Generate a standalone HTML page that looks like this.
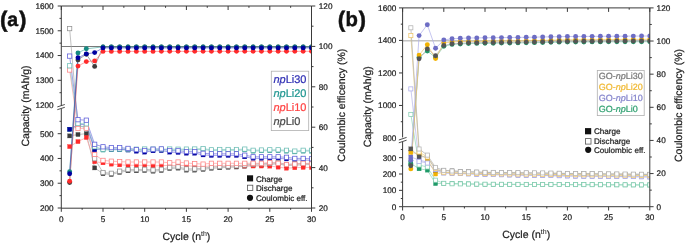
<!DOCTYPE html><html><head><meta charset="utf-8"><style>html,body{margin:0;padding:0;background:#fff;}svg{display:block}text{font-family:'Liberation Sans',sans-serif;text-rendering:geometricPrecision}svg{will-change:transform;filter:blur(0.35px)}</style></head><body>
<svg width="685" height="243" viewBox="0 0 685 243">
<rect width="685" height="243" fill="#fff"/>
<defs><clipPath id="ca"><rect x="61.30" y="6.00" width="250.20" height="202.00"/></clipPath></defs>
<g clip-path="url(#ca)">
<line x1="61.30" y1="46.50" x2="311.50" y2="46.50" stroke="#6a6a6a" stroke-width="0.9"/>
<polyline points="69.64,28.60 77.98,125.50 86.32,127.60 94.66,158.70 103.00,172.50 111.34,173.30 119.68,171.20 128.02,169.60 136.36,169.60 144.70,169.30 153.04,170.00 161.38,169.30 169.72,167.30 178.06,166.90 186.40,168.90 194.74,168.90 203.08,168.20 211.42,167.10 219.76,166.60 228.10,166.10 236.44,165.80 244.78,165.00 253.12,164.10 261.46,163.80 269.80,163.30 278.14,162.50 286.48,164.50 294.82,164.00 303.16,163.50 311.50,163.30" fill="none" stroke="#a8a8a8" stroke-width="0.7" opacity="1"/>
<polyline points="69.64,70.00 77.98,128.50 86.32,128.20 94.66,154.50 103.00,160.40 111.34,161.20 119.68,161.60 128.02,162.00 136.36,162.00 144.70,162.00 153.04,162.00 161.38,162.00 169.72,162.80 178.06,162.00 186.40,163.00 194.74,163.60 203.08,164.10 211.42,163.30 219.76,163.30 228.10,163.30 236.44,163.30 244.78,163.30 253.12,163.30 261.46,163.30 269.80,162.50 278.14,163.30 286.48,164.50 294.82,164.10 303.16,163.30 311.50,164.00" fill="none" stroke="#ff9d9d" stroke-width="0.7" opacity="1"/>
<polyline points="69.64,65.80 77.98,123.30 86.32,123.80 94.66,146.80 103.00,149.20 111.34,149.00 119.68,149.00 128.02,149.10 136.36,149.20 144.70,149.00 153.04,149.10 161.38,149.20 169.72,149.00 178.06,149.20 186.40,149.10 194.74,149.00 203.08,148.60 211.42,149.80 219.76,149.50 228.10,149.50 236.44,149.50 244.78,149.10 253.12,150.30 261.46,150.00 269.80,149.80 278.14,149.80 286.48,150.30 294.82,151.10 303.16,150.30 311.50,150.30" fill="none" stroke="#8ccbc5" stroke-width="0.7" opacity="1"/>
<polyline points="69.64,56.10 77.98,119.70 86.32,120.20 94.66,144.30 103.00,146.80 111.34,147.60 119.68,147.60 128.02,148.40 136.36,149.60 144.70,150.50 153.04,149.20 161.38,148.90 169.72,150.50 178.06,150.80 186.40,151.60 194.74,151.60 203.08,153.30 211.42,153.80 219.76,153.80 228.10,153.80 236.44,153.80 244.78,155.20 253.12,156.80 261.46,156.80 269.80,156.80 278.14,156.80 286.48,157.30 294.82,158.40 303.16,158.40 311.50,158.80" fill="none" stroke="#7a7ae0" stroke-width="0.7" opacity="1"/>
<polyline points="69.64,135.90 77.98,134.50 86.32,133.70 94.66,167.90 103.00,173.70 111.34,174.50 119.68,172.40 128.02,170.80 136.36,170.80 144.70,170.50 153.04,171.20 161.38,170.50 169.72,168.50 178.06,168.10 186.40,170.10 194.74,170.10 203.08,169.40 211.42,168.30 219.76,167.80 228.10,167.30 236.44,167.00 244.78,166.20 253.12,165.30 261.46,165.00 269.80,164.50 278.14,163.70 286.48,165.70 294.82,165.20 303.16,164.70 311.50,164.50" fill="none" stroke="#a8a8a8" stroke-width="0.7" opacity="1"/>
<polyline points="69.64,146.60 77.98,141.60 86.32,137.50 94.66,161.70 103.00,162.80 111.34,164.10 119.68,164.80 128.02,165.30 136.36,165.30 144.70,165.30 153.04,166.00 161.38,165.50 169.72,165.50 178.06,165.50 186.40,165.60 194.74,166.40 203.08,166.50 211.42,166.00 219.76,166.00 228.10,166.00 236.44,166.00 244.78,166.00 253.12,166.00 261.46,166.00 269.80,166.10 278.14,167.10 286.48,168.20 294.82,167.70 303.16,167.40 311.50,167.50" fill="none" stroke="#ff9d9d" stroke-width="0.7" opacity="1"/>
<polyline points="69.64,129.40 77.98,126.50 86.32,126.50 94.66,148.50 103.00,150.00 111.34,149.80 119.68,149.80 128.02,149.90 136.36,150.00 144.70,149.80 153.04,149.90 161.38,150.00 169.72,149.80 178.06,150.00 186.40,149.90 194.74,149.80 203.08,149.40 211.42,150.60 219.76,150.30 228.10,150.30 236.44,150.30 244.78,149.90 253.12,151.10 261.46,150.80 269.80,150.60 278.14,150.60 286.48,151.10 294.82,151.90 303.16,151.10 311.50,151.10" fill="none" stroke="#8ccbc5" stroke-width="0.7" opacity="1"/>
<polyline points="69.64,129.30 77.98,124.50 86.32,124.60 94.66,149.80 103.00,148.40 111.34,149.20 119.68,149.20 128.02,150.00 136.36,151.20 144.70,152.10 153.04,150.80 161.38,150.50 169.72,152.10 178.06,152.40 186.40,153.20 194.74,153.20 203.08,154.90 211.42,155.40 219.76,155.40 228.10,155.40 236.44,155.40 244.78,156.80 253.12,158.40 261.46,158.40 269.80,158.40 278.14,158.40 286.48,158.90 294.82,160.00 303.16,160.00 311.50,160.40" fill="none" stroke="#7a7ae0" stroke-width="0.7" opacity="1"/>
<polyline points="69.64,182.60 77.98,59.90 86.32,54.30 94.66,66.40 103.00,47.00 111.34,47.00 119.68,47.00 128.02,47.00 136.36,47.00 144.70,47.00 153.04,47.00 161.38,47.00 169.72,47.00 178.06,47.00 186.40,47.00 194.74,47.00 203.08,47.00 211.42,47.00 219.76,47.00 228.10,47.00 236.44,47.00 244.78,47.00 253.12,47.00 261.46,47.00 269.80,47.00 278.14,47.00 286.48,47.00 294.82,47.00 303.16,47.00 311.50,47.00" fill="none" stroke="#6a6a6a" stroke-width="0.6" opacity="1"/>
<polyline points="69.64,181.20 77.98,66.10 86.32,61.60 94.66,60.90 103.00,51.40 111.34,51.40 119.68,51.39 128.02,51.39 136.36,51.38 144.70,51.38 153.04,51.38 161.38,51.37 169.72,51.37 178.06,51.36 186.40,51.36 194.74,51.36 203.08,51.35 211.42,51.35 219.76,51.34 228.10,51.34 236.44,51.34 244.78,51.33 253.12,51.33 261.46,51.32 269.80,51.32 278.14,51.32 286.48,51.31 294.82,51.31 303.16,51.30 311.50,51.30" fill="none" stroke="#ff6a6a" stroke-width="0.6" opacity="1"/>
<polyline points="69.64,171.80 77.98,52.90 86.32,48.80 103.00,46.90 111.34,46.90 119.68,46.90 128.02,46.90 136.36,46.90 144.70,46.90 153.04,46.90 161.38,46.90 169.72,46.90 178.06,46.90 186.40,46.90 194.74,46.90 203.08,46.90 211.42,46.90 219.76,46.90 228.10,46.90 236.44,46.90 244.78,46.90 253.12,46.90 261.46,46.90 269.80,46.90 278.14,46.90 286.48,46.90 294.82,46.90 303.16,46.90 311.50,46.90" fill="none" stroke="#3aa39b" stroke-width="0.6" opacity="1"/>
<polyline points="69.64,173.70 77.98,57.80 86.32,53.90 94.66,52.60 103.00,47.90 111.34,47.90 119.68,47.90 128.02,47.90 136.36,47.90 144.70,47.90 153.04,47.90 161.38,47.90 169.72,47.90 178.06,47.90 186.40,47.90 194.74,47.90 203.08,47.90 211.42,47.90 219.76,47.90 228.10,47.90 236.44,47.90 244.78,47.90 253.12,47.90 261.46,47.90 269.80,47.90 278.14,47.90 286.48,47.90 294.82,47.90 303.16,47.90 311.50,47.90" fill="none" stroke="#4040c0" stroke-width="0.6" opacity="1"/>
<rect x="67.59" y="133.85" width="4.10" height="4.10" fill="#3c3c3c" stroke="#3c3c3c" stroke-width="0.3"/>
<rect x="75.93" y="132.45" width="4.10" height="4.10" fill="#3c3c3c" stroke="#3c3c3c" stroke-width="0.3"/>
<rect x="84.27" y="131.65" width="4.10" height="4.10" fill="#3c3c3c" stroke="#3c3c3c" stroke-width="0.3"/>
<rect x="92.61" y="165.85" width="4.10" height="4.10" fill="#3c3c3c" stroke="#3c3c3c" stroke-width="0.3"/>
<rect x="100.95" y="171.65" width="4.10" height="4.10" fill="#3c3c3c" stroke="#3c3c3c" stroke-width="0.3"/>
<rect x="109.29" y="172.45" width="4.10" height="4.10" fill="#3c3c3c" stroke="#3c3c3c" stroke-width="0.3"/>
<rect x="117.63" y="170.35" width="4.10" height="4.10" fill="#3c3c3c" stroke="#3c3c3c" stroke-width="0.3"/>
<rect x="125.97" y="168.75" width="4.10" height="4.10" fill="#3c3c3c" stroke="#3c3c3c" stroke-width="0.3"/>
<rect x="134.31" y="168.75" width="4.10" height="4.10" fill="#3c3c3c" stroke="#3c3c3c" stroke-width="0.3"/>
<rect x="142.65" y="168.45" width="4.10" height="4.10" fill="#3c3c3c" stroke="#3c3c3c" stroke-width="0.3"/>
<rect x="150.99" y="169.15" width="4.10" height="4.10" fill="#3c3c3c" stroke="#3c3c3c" stroke-width="0.3"/>
<rect x="159.33" y="168.45" width="4.10" height="4.10" fill="#3c3c3c" stroke="#3c3c3c" stroke-width="0.3"/>
<rect x="167.67" y="166.45" width="4.10" height="4.10" fill="#3c3c3c" stroke="#3c3c3c" stroke-width="0.3"/>
<rect x="176.01" y="166.05" width="4.10" height="4.10" fill="#3c3c3c" stroke="#3c3c3c" stroke-width="0.3"/>
<rect x="184.35" y="168.05" width="4.10" height="4.10" fill="#3c3c3c" stroke="#3c3c3c" stroke-width="0.3"/>
<rect x="192.69" y="168.05" width="4.10" height="4.10" fill="#3c3c3c" stroke="#3c3c3c" stroke-width="0.3"/>
<rect x="201.03" y="167.35" width="4.10" height="4.10" fill="#3c3c3c" stroke="#3c3c3c" stroke-width="0.3"/>
<rect x="209.37" y="166.25" width="4.10" height="4.10" fill="#3c3c3c" stroke="#3c3c3c" stroke-width="0.3"/>
<rect x="217.71" y="165.75" width="4.10" height="4.10" fill="#3c3c3c" stroke="#3c3c3c" stroke-width="0.3"/>
<rect x="226.05" y="165.25" width="4.10" height="4.10" fill="#3c3c3c" stroke="#3c3c3c" stroke-width="0.3"/>
<rect x="234.39" y="164.95" width="4.10" height="4.10" fill="#3c3c3c" stroke="#3c3c3c" stroke-width="0.3"/>
<rect x="242.73" y="164.15" width="4.10" height="4.10" fill="#3c3c3c" stroke="#3c3c3c" stroke-width="0.3"/>
<rect x="251.07" y="163.25" width="4.10" height="4.10" fill="#3c3c3c" stroke="#3c3c3c" stroke-width="0.3"/>
<rect x="259.41" y="162.95" width="4.10" height="4.10" fill="#3c3c3c" stroke="#3c3c3c" stroke-width="0.3"/>
<rect x="267.75" y="162.45" width="4.10" height="4.10" fill="#3c3c3c" stroke="#3c3c3c" stroke-width="0.3"/>
<rect x="276.09" y="161.65" width="4.10" height="4.10" fill="#3c3c3c" stroke="#3c3c3c" stroke-width="0.3"/>
<rect x="284.43" y="163.65" width="4.10" height="4.10" fill="#3c3c3c" stroke="#3c3c3c" stroke-width="0.3"/>
<rect x="292.77" y="163.15" width="4.10" height="4.10" fill="#3c3c3c" stroke="#3c3c3c" stroke-width="0.3"/>
<rect x="301.11" y="162.65" width="4.10" height="4.10" fill="#3c3c3c" stroke="#3c3c3c" stroke-width="0.3"/>
<rect x="309.45" y="162.45" width="4.10" height="4.10" fill="#3c3c3c" stroke="#3c3c3c" stroke-width="0.3"/>
<rect x="67.59" y="144.55" width="4.10" height="4.10" fill="#ff2b2b" stroke="#ff2b2b" stroke-width="0.3"/>
<rect x="75.93" y="139.55" width="4.10" height="4.10" fill="#ff2b2b" stroke="#ff2b2b" stroke-width="0.3"/>
<rect x="84.27" y="135.45" width="4.10" height="4.10" fill="#ff2b2b" stroke="#ff2b2b" stroke-width="0.3"/>
<rect x="92.61" y="159.65" width="4.10" height="4.10" fill="#ff2b2b" stroke="#ff2b2b" stroke-width="0.3"/>
<rect x="100.95" y="160.75" width="4.10" height="4.10" fill="#ff2b2b" stroke="#ff2b2b" stroke-width="0.3"/>
<rect x="109.29" y="162.05" width="4.10" height="4.10" fill="#ff2b2b" stroke="#ff2b2b" stroke-width="0.3"/>
<rect x="117.63" y="162.75" width="4.10" height="4.10" fill="#ff2b2b" stroke="#ff2b2b" stroke-width="0.3"/>
<rect x="125.97" y="163.25" width="4.10" height="4.10" fill="#ff2b2b" stroke="#ff2b2b" stroke-width="0.3"/>
<rect x="134.31" y="163.25" width="4.10" height="4.10" fill="#ff2b2b" stroke="#ff2b2b" stroke-width="0.3"/>
<rect x="142.65" y="163.25" width="4.10" height="4.10" fill="#ff2b2b" stroke="#ff2b2b" stroke-width="0.3"/>
<rect x="150.99" y="163.95" width="4.10" height="4.10" fill="#ff2b2b" stroke="#ff2b2b" stroke-width="0.3"/>
<rect x="159.33" y="163.45" width="4.10" height="4.10" fill="#ff2b2b" stroke="#ff2b2b" stroke-width="0.3"/>
<rect x="167.67" y="163.45" width="4.10" height="4.10" fill="#ff2b2b" stroke="#ff2b2b" stroke-width="0.3"/>
<rect x="176.01" y="163.45" width="4.10" height="4.10" fill="#ff2b2b" stroke="#ff2b2b" stroke-width="0.3"/>
<rect x="184.35" y="163.55" width="4.10" height="4.10" fill="#ff2b2b" stroke="#ff2b2b" stroke-width="0.3"/>
<rect x="192.69" y="164.35" width="4.10" height="4.10" fill="#ff2b2b" stroke="#ff2b2b" stroke-width="0.3"/>
<rect x="201.03" y="164.45" width="4.10" height="4.10" fill="#ff2b2b" stroke="#ff2b2b" stroke-width="0.3"/>
<rect x="209.37" y="163.95" width="4.10" height="4.10" fill="#ff2b2b" stroke="#ff2b2b" stroke-width="0.3"/>
<rect x="217.71" y="163.95" width="4.10" height="4.10" fill="#ff2b2b" stroke="#ff2b2b" stroke-width="0.3"/>
<rect x="226.05" y="163.95" width="4.10" height="4.10" fill="#ff2b2b" stroke="#ff2b2b" stroke-width="0.3"/>
<rect x="234.39" y="163.95" width="4.10" height="4.10" fill="#ff2b2b" stroke="#ff2b2b" stroke-width="0.3"/>
<rect x="242.73" y="163.95" width="4.10" height="4.10" fill="#ff2b2b" stroke="#ff2b2b" stroke-width="0.3"/>
<rect x="251.07" y="163.95" width="4.10" height="4.10" fill="#ff2b2b" stroke="#ff2b2b" stroke-width="0.3"/>
<rect x="259.41" y="163.95" width="4.10" height="4.10" fill="#ff2b2b" stroke="#ff2b2b" stroke-width="0.3"/>
<rect x="267.75" y="164.05" width="4.10" height="4.10" fill="#ff2b2b" stroke="#ff2b2b" stroke-width="0.3"/>
<rect x="276.09" y="165.05" width="4.10" height="4.10" fill="#ff2b2b" stroke="#ff2b2b" stroke-width="0.3"/>
<rect x="284.43" y="166.15" width="4.10" height="4.10" fill="#ff2b2b" stroke="#ff2b2b" stroke-width="0.3"/>
<rect x="292.77" y="165.65" width="4.10" height="4.10" fill="#ff2b2b" stroke="#ff2b2b" stroke-width="0.3"/>
<rect x="301.11" y="165.35" width="4.10" height="4.10" fill="#ff2b2b" stroke="#ff2b2b" stroke-width="0.3"/>
<rect x="309.45" y="165.45" width="4.10" height="4.10" fill="#ff2b2b" stroke="#ff2b2b" stroke-width="0.3"/>
<rect x="67.59" y="127.35" width="4.10" height="4.10" fill="#168a82" stroke="#168a82" stroke-width="0.3"/>
<rect x="75.93" y="124.45" width="4.10" height="4.10" fill="#168a82" stroke="#168a82" stroke-width="0.3"/>
<rect x="84.27" y="124.45" width="4.10" height="4.10" fill="#168a82" stroke="#168a82" stroke-width="0.3"/>
<rect x="92.61" y="146.45" width="4.10" height="4.10" fill="#168a82" stroke="#168a82" stroke-width="0.3"/>
<rect x="100.95" y="147.95" width="4.10" height="4.10" fill="#168a82" stroke="#168a82" stroke-width="0.3"/>
<rect x="109.29" y="147.75" width="4.10" height="4.10" fill="#168a82" stroke="#168a82" stroke-width="0.3"/>
<rect x="117.63" y="147.75" width="4.10" height="4.10" fill="#168a82" stroke="#168a82" stroke-width="0.3"/>
<rect x="125.97" y="147.85" width="4.10" height="4.10" fill="#168a82" stroke="#168a82" stroke-width="0.3"/>
<rect x="134.31" y="147.95" width="4.10" height="4.10" fill="#168a82" stroke="#168a82" stroke-width="0.3"/>
<rect x="142.65" y="147.75" width="4.10" height="4.10" fill="#168a82" stroke="#168a82" stroke-width="0.3"/>
<rect x="150.99" y="147.85" width="4.10" height="4.10" fill="#168a82" stroke="#168a82" stroke-width="0.3"/>
<rect x="159.33" y="147.95" width="4.10" height="4.10" fill="#168a82" stroke="#168a82" stroke-width="0.3"/>
<rect x="167.67" y="147.75" width="4.10" height="4.10" fill="#168a82" stroke="#168a82" stroke-width="0.3"/>
<rect x="176.01" y="147.95" width="4.10" height="4.10" fill="#168a82" stroke="#168a82" stroke-width="0.3"/>
<rect x="184.35" y="147.85" width="4.10" height="4.10" fill="#168a82" stroke="#168a82" stroke-width="0.3"/>
<rect x="192.69" y="147.75" width="4.10" height="4.10" fill="#168a82" stroke="#168a82" stroke-width="0.3"/>
<rect x="201.03" y="147.35" width="4.10" height="4.10" fill="#168a82" stroke="#168a82" stroke-width="0.3"/>
<rect x="209.37" y="148.55" width="4.10" height="4.10" fill="#168a82" stroke="#168a82" stroke-width="0.3"/>
<rect x="217.71" y="148.25" width="4.10" height="4.10" fill="#168a82" stroke="#168a82" stroke-width="0.3"/>
<rect x="226.05" y="148.25" width="4.10" height="4.10" fill="#168a82" stroke="#168a82" stroke-width="0.3"/>
<rect x="234.39" y="148.25" width="4.10" height="4.10" fill="#168a82" stroke="#168a82" stroke-width="0.3"/>
<rect x="242.73" y="147.85" width="4.10" height="4.10" fill="#168a82" stroke="#168a82" stroke-width="0.3"/>
<rect x="251.07" y="149.05" width="4.10" height="4.10" fill="#168a82" stroke="#168a82" stroke-width="0.3"/>
<rect x="259.41" y="148.75" width="4.10" height="4.10" fill="#168a82" stroke="#168a82" stroke-width="0.3"/>
<rect x="267.75" y="148.55" width="4.10" height="4.10" fill="#168a82" stroke="#168a82" stroke-width="0.3"/>
<rect x="276.09" y="148.55" width="4.10" height="4.10" fill="#168a82" stroke="#168a82" stroke-width="0.3"/>
<rect x="284.43" y="149.05" width="4.10" height="4.10" fill="#168a82" stroke="#168a82" stroke-width="0.3"/>
<rect x="292.77" y="149.85" width="4.10" height="4.10" fill="#168a82" stroke="#168a82" stroke-width="0.3"/>
<rect x="301.11" y="149.05" width="4.10" height="4.10" fill="#168a82" stroke="#168a82" stroke-width="0.3"/>
<rect x="309.45" y="149.05" width="4.10" height="4.10" fill="#168a82" stroke="#168a82" stroke-width="0.3"/>
<rect x="67.59" y="127.25" width="4.10" height="4.10" fill="#0000a0" stroke="#0000a0" stroke-width="0.3"/>
<rect x="75.93" y="122.45" width="4.10" height="4.10" fill="#0000a0" stroke="#0000a0" stroke-width="0.3"/>
<rect x="84.27" y="122.55" width="4.10" height="4.10" fill="#0000a0" stroke="#0000a0" stroke-width="0.3"/>
<rect x="92.61" y="147.75" width="4.10" height="4.10" fill="#0000a0" stroke="#0000a0" stroke-width="0.3"/>
<rect x="100.95" y="146.35" width="4.10" height="4.10" fill="#0000a0" stroke="#0000a0" stroke-width="0.3"/>
<rect x="109.29" y="147.15" width="4.10" height="4.10" fill="#0000a0" stroke="#0000a0" stroke-width="0.3"/>
<rect x="117.63" y="147.15" width="4.10" height="4.10" fill="#0000a0" stroke="#0000a0" stroke-width="0.3"/>
<rect x="125.97" y="147.95" width="4.10" height="4.10" fill="#0000a0" stroke="#0000a0" stroke-width="0.3"/>
<rect x="134.31" y="149.15" width="4.10" height="4.10" fill="#0000a0" stroke="#0000a0" stroke-width="0.3"/>
<rect x="142.65" y="150.05" width="4.10" height="4.10" fill="#0000a0" stroke="#0000a0" stroke-width="0.3"/>
<rect x="150.99" y="148.75" width="4.10" height="4.10" fill="#0000a0" stroke="#0000a0" stroke-width="0.3"/>
<rect x="159.33" y="148.45" width="4.10" height="4.10" fill="#0000a0" stroke="#0000a0" stroke-width="0.3"/>
<rect x="167.67" y="150.05" width="4.10" height="4.10" fill="#0000a0" stroke="#0000a0" stroke-width="0.3"/>
<rect x="176.01" y="150.35" width="4.10" height="4.10" fill="#0000a0" stroke="#0000a0" stroke-width="0.3"/>
<rect x="184.35" y="151.15" width="4.10" height="4.10" fill="#0000a0" stroke="#0000a0" stroke-width="0.3"/>
<rect x="192.69" y="151.15" width="4.10" height="4.10" fill="#0000a0" stroke="#0000a0" stroke-width="0.3"/>
<rect x="201.03" y="152.85" width="4.10" height="4.10" fill="#0000a0" stroke="#0000a0" stroke-width="0.3"/>
<rect x="209.37" y="153.35" width="4.10" height="4.10" fill="#0000a0" stroke="#0000a0" stroke-width="0.3"/>
<rect x="217.71" y="153.35" width="4.10" height="4.10" fill="#0000a0" stroke="#0000a0" stroke-width="0.3"/>
<rect x="226.05" y="153.35" width="4.10" height="4.10" fill="#0000a0" stroke="#0000a0" stroke-width="0.3"/>
<rect x="234.39" y="153.35" width="4.10" height="4.10" fill="#0000a0" stroke="#0000a0" stroke-width="0.3"/>
<rect x="242.73" y="154.75" width="4.10" height="4.10" fill="#0000a0" stroke="#0000a0" stroke-width="0.3"/>
<rect x="251.07" y="156.35" width="4.10" height="4.10" fill="#0000a0" stroke="#0000a0" stroke-width="0.3"/>
<rect x="259.41" y="156.35" width="4.10" height="4.10" fill="#0000a0" stroke="#0000a0" stroke-width="0.3"/>
<rect x="267.75" y="156.35" width="4.10" height="4.10" fill="#0000a0" stroke="#0000a0" stroke-width="0.3"/>
<rect x="276.09" y="156.35" width="4.10" height="4.10" fill="#0000a0" stroke="#0000a0" stroke-width="0.3"/>
<rect x="284.43" y="156.85" width="4.10" height="4.10" fill="#0000a0" stroke="#0000a0" stroke-width="0.3"/>
<rect x="292.77" y="157.95" width="4.10" height="4.10" fill="#0000a0" stroke="#0000a0" stroke-width="0.3"/>
<rect x="301.11" y="157.95" width="4.10" height="4.10" fill="#0000a0" stroke="#0000a0" stroke-width="0.3"/>
<rect x="309.45" y="158.35" width="4.10" height="4.10" fill="#0000a0" stroke="#0000a0" stroke-width="0.3"/>
<rect x="67.49" y="26.45" width="4.30" height="4.30" fill="#fff" stroke="#909090" stroke-width="0.75"/>
<rect x="75.83" y="123.35" width="4.30" height="4.30" fill="#fff" stroke="#909090" stroke-width="0.75"/>
<rect x="84.17" y="125.45" width="4.30" height="4.30" fill="#fff" stroke="#909090" stroke-width="0.75"/>
<rect x="92.51" y="156.55" width="4.30" height="4.30" fill="#fff" stroke="#909090" stroke-width="0.75"/>
<rect x="100.85" y="170.35" width="4.30" height="4.30" fill="#fff" stroke="#909090" stroke-width="0.75"/>
<rect x="109.19" y="171.15" width="4.30" height="4.30" fill="#fff" stroke="#909090" stroke-width="0.75"/>
<rect x="117.53" y="169.05" width="4.30" height="4.30" fill="#fff" stroke="#909090" stroke-width="0.75"/>
<rect x="125.87" y="167.45" width="4.30" height="4.30" fill="#fff" stroke="#909090" stroke-width="0.75"/>
<rect x="134.21" y="167.45" width="4.30" height="4.30" fill="#fff" stroke="#909090" stroke-width="0.75"/>
<rect x="142.55" y="167.15" width="4.30" height="4.30" fill="#fff" stroke="#909090" stroke-width="0.75"/>
<rect x="150.89" y="167.85" width="4.30" height="4.30" fill="#fff" stroke="#909090" stroke-width="0.75"/>
<rect x="159.23" y="167.15" width="4.30" height="4.30" fill="#fff" stroke="#909090" stroke-width="0.75"/>
<rect x="167.57" y="165.15" width="4.30" height="4.30" fill="#fff" stroke="#909090" stroke-width="0.75"/>
<rect x="175.91" y="164.75" width="4.30" height="4.30" fill="#fff" stroke="#909090" stroke-width="0.75"/>
<rect x="184.25" y="166.75" width="4.30" height="4.30" fill="#fff" stroke="#909090" stroke-width="0.75"/>
<rect x="192.59" y="166.75" width="4.30" height="4.30" fill="#fff" stroke="#909090" stroke-width="0.75"/>
<rect x="200.93" y="166.05" width="4.30" height="4.30" fill="#fff" stroke="#909090" stroke-width="0.75"/>
<rect x="209.27" y="164.95" width="4.30" height="4.30" fill="#fff" stroke="#909090" stroke-width="0.75"/>
<rect x="217.61" y="164.45" width="4.30" height="4.30" fill="#fff" stroke="#909090" stroke-width="0.75"/>
<rect x="225.95" y="163.95" width="4.30" height="4.30" fill="#fff" stroke="#909090" stroke-width="0.75"/>
<rect x="234.29" y="163.65" width="4.30" height="4.30" fill="#fff" stroke="#909090" stroke-width="0.75"/>
<rect x="242.63" y="162.85" width="4.30" height="4.30" fill="#fff" stroke="#909090" stroke-width="0.75"/>
<rect x="250.97" y="161.95" width="4.30" height="4.30" fill="#fff" stroke="#909090" stroke-width="0.75"/>
<rect x="259.31" y="161.65" width="4.30" height="4.30" fill="#fff" stroke="#909090" stroke-width="0.75"/>
<rect x="267.65" y="161.15" width="4.30" height="4.30" fill="#fff" stroke="#909090" stroke-width="0.75"/>
<rect x="275.99" y="160.35" width="4.30" height="4.30" fill="#fff" stroke="#909090" stroke-width="0.75"/>
<rect x="284.33" y="162.35" width="4.30" height="4.30" fill="#fff" stroke="#909090" stroke-width="0.75"/>
<rect x="292.67" y="161.85" width="4.30" height="4.30" fill="#fff" stroke="#909090" stroke-width="0.75"/>
<rect x="301.01" y="161.35" width="4.30" height="4.30" fill="#fff" stroke="#909090" stroke-width="0.75"/>
<rect x="309.35" y="161.15" width="4.30" height="4.30" fill="#fff" stroke="#909090" stroke-width="0.75"/>
<rect x="67.49" y="67.85" width="4.30" height="4.30" fill="#fff" stroke="#ff8080" stroke-width="0.75"/>
<rect x="75.83" y="126.35" width="4.30" height="4.30" fill="#fff" stroke="#ff8080" stroke-width="0.75"/>
<rect x="84.17" y="126.05" width="4.30" height="4.30" fill="#fff" stroke="#ff8080" stroke-width="0.75"/>
<rect x="92.51" y="152.35" width="4.30" height="4.30" fill="#fff" stroke="#ff8080" stroke-width="0.75"/>
<rect x="100.85" y="158.25" width="4.30" height="4.30" fill="#fff" stroke="#ff8080" stroke-width="0.75"/>
<rect x="109.19" y="159.05" width="4.30" height="4.30" fill="#fff" stroke="#ff8080" stroke-width="0.75"/>
<rect x="117.53" y="159.45" width="4.30" height="4.30" fill="#fff" stroke="#ff8080" stroke-width="0.75"/>
<rect x="125.87" y="159.85" width="4.30" height="4.30" fill="#fff" stroke="#ff8080" stroke-width="0.75"/>
<rect x="134.21" y="159.85" width="4.30" height="4.30" fill="#fff" stroke="#ff8080" stroke-width="0.75"/>
<rect x="142.55" y="159.85" width="4.30" height="4.30" fill="#fff" stroke="#ff8080" stroke-width="0.75"/>
<rect x="150.89" y="159.85" width="4.30" height="4.30" fill="#fff" stroke="#ff8080" stroke-width="0.75"/>
<rect x="159.23" y="159.85" width="4.30" height="4.30" fill="#fff" stroke="#ff8080" stroke-width="0.75"/>
<rect x="167.57" y="160.65" width="4.30" height="4.30" fill="#fff" stroke="#ff8080" stroke-width="0.75"/>
<rect x="175.91" y="159.85" width="4.30" height="4.30" fill="#fff" stroke="#ff8080" stroke-width="0.75"/>
<rect x="184.25" y="160.85" width="4.30" height="4.30" fill="#fff" stroke="#ff8080" stroke-width="0.75"/>
<rect x="192.59" y="161.45" width="4.30" height="4.30" fill="#fff" stroke="#ff8080" stroke-width="0.75"/>
<rect x="200.93" y="161.95" width="4.30" height="4.30" fill="#fff" stroke="#ff8080" stroke-width="0.75"/>
<rect x="209.27" y="161.15" width="4.30" height="4.30" fill="#fff" stroke="#ff8080" stroke-width="0.75"/>
<rect x="217.61" y="161.15" width="4.30" height="4.30" fill="#fff" stroke="#ff8080" stroke-width="0.75"/>
<rect x="225.95" y="161.15" width="4.30" height="4.30" fill="#fff" stroke="#ff8080" stroke-width="0.75"/>
<rect x="234.29" y="161.15" width="4.30" height="4.30" fill="#fff" stroke="#ff8080" stroke-width="0.75"/>
<rect x="242.63" y="161.15" width="4.30" height="4.30" fill="#fff" stroke="#ff8080" stroke-width="0.75"/>
<rect x="250.97" y="161.15" width="4.30" height="4.30" fill="#fff" stroke="#ff8080" stroke-width="0.75"/>
<rect x="259.31" y="161.15" width="4.30" height="4.30" fill="#fff" stroke="#ff8080" stroke-width="0.75"/>
<rect x="267.65" y="160.35" width="4.30" height="4.30" fill="#fff" stroke="#ff8080" stroke-width="0.75"/>
<rect x="275.99" y="161.15" width="4.30" height="4.30" fill="#fff" stroke="#ff8080" stroke-width="0.75"/>
<rect x="284.33" y="162.35" width="4.30" height="4.30" fill="#fff" stroke="#ff8080" stroke-width="0.75"/>
<rect x="292.67" y="161.95" width="4.30" height="4.30" fill="#fff" stroke="#ff8080" stroke-width="0.75"/>
<rect x="301.01" y="161.15" width="4.30" height="4.30" fill="#fff" stroke="#ff8080" stroke-width="0.75"/>
<rect x="309.35" y="161.85" width="4.30" height="4.30" fill="#fff" stroke="#ff8080" stroke-width="0.75"/>
<rect x="67.49" y="63.65" width="4.30" height="4.30" fill="#fff" stroke="#6cbdb5" stroke-width="0.75"/>
<rect x="75.83" y="121.15" width="4.30" height="4.30" fill="#fff" stroke="#6cbdb5" stroke-width="0.75"/>
<rect x="84.17" y="121.65" width="4.30" height="4.30" fill="#fff" stroke="#6cbdb5" stroke-width="0.75"/>
<rect x="92.51" y="144.65" width="4.30" height="4.30" fill="#fff" stroke="#6cbdb5" stroke-width="0.75"/>
<rect x="100.85" y="147.05" width="4.30" height="4.30" fill="#fff" stroke="#6cbdb5" stroke-width="0.75"/>
<rect x="109.19" y="146.85" width="4.30" height="4.30" fill="#fff" stroke="#6cbdb5" stroke-width="0.75"/>
<rect x="117.53" y="146.85" width="4.30" height="4.30" fill="#fff" stroke="#6cbdb5" stroke-width="0.75"/>
<rect x="125.87" y="146.95" width="4.30" height="4.30" fill="#fff" stroke="#6cbdb5" stroke-width="0.75"/>
<rect x="134.21" y="147.05" width="4.30" height="4.30" fill="#fff" stroke="#6cbdb5" stroke-width="0.75"/>
<rect x="142.55" y="146.85" width="4.30" height="4.30" fill="#fff" stroke="#6cbdb5" stroke-width="0.75"/>
<rect x="150.89" y="146.95" width="4.30" height="4.30" fill="#fff" stroke="#6cbdb5" stroke-width="0.75"/>
<rect x="159.23" y="147.05" width="4.30" height="4.30" fill="#fff" stroke="#6cbdb5" stroke-width="0.75"/>
<rect x="167.57" y="146.85" width="4.30" height="4.30" fill="#fff" stroke="#6cbdb5" stroke-width="0.75"/>
<rect x="175.91" y="147.05" width="4.30" height="4.30" fill="#fff" stroke="#6cbdb5" stroke-width="0.75"/>
<rect x="184.25" y="146.95" width="4.30" height="4.30" fill="#fff" stroke="#6cbdb5" stroke-width="0.75"/>
<rect x="192.59" y="146.85" width="4.30" height="4.30" fill="#fff" stroke="#6cbdb5" stroke-width="0.75"/>
<rect x="200.93" y="146.45" width="4.30" height="4.30" fill="#fff" stroke="#6cbdb5" stroke-width="0.75"/>
<rect x="209.27" y="147.65" width="4.30" height="4.30" fill="#fff" stroke="#6cbdb5" stroke-width="0.75"/>
<rect x="217.61" y="147.35" width="4.30" height="4.30" fill="#fff" stroke="#6cbdb5" stroke-width="0.75"/>
<rect x="225.95" y="147.35" width="4.30" height="4.30" fill="#fff" stroke="#6cbdb5" stroke-width="0.75"/>
<rect x="234.29" y="147.35" width="4.30" height="4.30" fill="#fff" stroke="#6cbdb5" stroke-width="0.75"/>
<rect x="242.63" y="146.95" width="4.30" height="4.30" fill="#fff" stroke="#6cbdb5" stroke-width="0.75"/>
<rect x="250.97" y="148.15" width="4.30" height="4.30" fill="#fff" stroke="#6cbdb5" stroke-width="0.75"/>
<rect x="259.31" y="147.85" width="4.30" height="4.30" fill="#fff" stroke="#6cbdb5" stroke-width="0.75"/>
<rect x="267.65" y="147.65" width="4.30" height="4.30" fill="#fff" stroke="#6cbdb5" stroke-width="0.75"/>
<rect x="275.99" y="147.65" width="4.30" height="4.30" fill="#fff" stroke="#6cbdb5" stroke-width="0.75"/>
<rect x="284.33" y="148.15" width="4.30" height="4.30" fill="#fff" stroke="#6cbdb5" stroke-width="0.75"/>
<rect x="292.67" y="148.95" width="4.30" height="4.30" fill="#fff" stroke="#6cbdb5" stroke-width="0.75"/>
<rect x="301.01" y="148.15" width="4.30" height="4.30" fill="#fff" stroke="#6cbdb5" stroke-width="0.75"/>
<rect x="309.35" y="148.15" width="4.30" height="4.30" fill="#fff" stroke="#6cbdb5" stroke-width="0.75"/>
<rect x="67.49" y="53.95" width="4.30" height="4.30" fill="#fff" stroke="#5a5ad8" stroke-width="0.75"/>
<rect x="75.83" y="117.55" width="4.30" height="4.30" fill="#fff" stroke="#5a5ad8" stroke-width="0.75"/>
<rect x="84.17" y="118.05" width="4.30" height="4.30" fill="#fff" stroke="#5a5ad8" stroke-width="0.75"/>
<rect x="92.51" y="142.15" width="4.30" height="4.30" fill="#fff" stroke="#5a5ad8" stroke-width="0.75"/>
<rect x="100.85" y="144.65" width="4.30" height="4.30" fill="#fff" stroke="#5a5ad8" stroke-width="0.75"/>
<rect x="109.19" y="145.45" width="4.30" height="4.30" fill="#fff" stroke="#5a5ad8" stroke-width="0.75"/>
<rect x="117.53" y="145.45" width="4.30" height="4.30" fill="#fff" stroke="#5a5ad8" stroke-width="0.75"/>
<rect x="125.87" y="146.25" width="4.30" height="4.30" fill="#fff" stroke="#5a5ad8" stroke-width="0.75"/>
<rect x="134.21" y="147.45" width="4.30" height="4.30" fill="#fff" stroke="#5a5ad8" stroke-width="0.75"/>
<rect x="142.55" y="148.35" width="4.30" height="4.30" fill="#fff" stroke="#5a5ad8" stroke-width="0.75"/>
<rect x="150.89" y="147.05" width="4.30" height="4.30" fill="#fff" stroke="#5a5ad8" stroke-width="0.75"/>
<rect x="159.23" y="146.75" width="4.30" height="4.30" fill="#fff" stroke="#5a5ad8" stroke-width="0.75"/>
<rect x="167.57" y="148.35" width="4.30" height="4.30" fill="#fff" stroke="#5a5ad8" stroke-width="0.75"/>
<rect x="175.91" y="148.65" width="4.30" height="4.30" fill="#fff" stroke="#5a5ad8" stroke-width="0.75"/>
<rect x="184.25" y="149.45" width="4.30" height="4.30" fill="#fff" stroke="#5a5ad8" stroke-width="0.75"/>
<rect x="192.59" y="149.45" width="4.30" height="4.30" fill="#fff" stroke="#5a5ad8" stroke-width="0.75"/>
<rect x="200.93" y="151.15" width="4.30" height="4.30" fill="#fff" stroke="#5a5ad8" stroke-width="0.75"/>
<rect x="209.27" y="151.65" width="4.30" height="4.30" fill="#fff" stroke="#5a5ad8" stroke-width="0.75"/>
<rect x="217.61" y="151.65" width="4.30" height="4.30" fill="#fff" stroke="#5a5ad8" stroke-width="0.75"/>
<rect x="225.95" y="151.65" width="4.30" height="4.30" fill="#fff" stroke="#5a5ad8" stroke-width="0.75"/>
<rect x="234.29" y="151.65" width="4.30" height="4.30" fill="#fff" stroke="#5a5ad8" stroke-width="0.75"/>
<rect x="242.63" y="153.05" width="4.30" height="4.30" fill="#fff" stroke="#5a5ad8" stroke-width="0.75"/>
<rect x="250.97" y="154.65" width="4.30" height="4.30" fill="#fff" stroke="#5a5ad8" stroke-width="0.75"/>
<rect x="259.31" y="154.65" width="4.30" height="4.30" fill="#fff" stroke="#5a5ad8" stroke-width="0.75"/>
<rect x="267.65" y="154.65" width="4.30" height="4.30" fill="#fff" stroke="#5a5ad8" stroke-width="0.75"/>
<rect x="275.99" y="154.65" width="4.30" height="4.30" fill="#fff" stroke="#5a5ad8" stroke-width="0.75"/>
<rect x="284.33" y="155.15" width="4.30" height="4.30" fill="#fff" stroke="#5a5ad8" stroke-width="0.75"/>
<rect x="292.67" y="156.25" width="4.30" height="4.30" fill="#fff" stroke="#5a5ad8" stroke-width="0.75"/>
<rect x="301.01" y="156.25" width="4.30" height="4.30" fill="#fff" stroke="#5a5ad8" stroke-width="0.75"/>
<rect x="309.35" y="156.65" width="4.30" height="4.30" fill="#fff" stroke="#5a5ad8" stroke-width="0.75"/>
<circle cx="69.64" cy="182.60" r="2.45" fill="#3c3c3c"/>
<circle cx="77.98" cy="59.90" r="2.45" fill="#3c3c3c"/>
<circle cx="86.32" cy="54.30" r="2.45" fill="#3c3c3c"/>
<circle cx="94.66" cy="66.40" r="2.45" fill="#3c3c3c"/>
<circle cx="103.00" cy="47.00" r="2.45" fill="#3c3c3c"/>
<circle cx="111.34" cy="47.00" r="2.45" fill="#3c3c3c"/>
<circle cx="119.68" cy="47.00" r="2.45" fill="#3c3c3c"/>
<circle cx="128.02" cy="47.00" r="2.45" fill="#3c3c3c"/>
<circle cx="136.36" cy="47.00" r="2.45" fill="#3c3c3c"/>
<circle cx="144.70" cy="47.00" r="2.45" fill="#3c3c3c"/>
<circle cx="153.04" cy="47.00" r="2.45" fill="#3c3c3c"/>
<circle cx="161.38" cy="47.00" r="2.45" fill="#3c3c3c"/>
<circle cx="169.72" cy="47.00" r="2.45" fill="#3c3c3c"/>
<circle cx="178.06" cy="47.00" r="2.45" fill="#3c3c3c"/>
<circle cx="186.40" cy="47.00" r="2.45" fill="#3c3c3c"/>
<circle cx="194.74" cy="47.00" r="2.45" fill="#3c3c3c"/>
<circle cx="203.08" cy="47.00" r="2.45" fill="#3c3c3c"/>
<circle cx="211.42" cy="47.00" r="2.45" fill="#3c3c3c"/>
<circle cx="219.76" cy="47.00" r="2.45" fill="#3c3c3c"/>
<circle cx="228.10" cy="47.00" r="2.45" fill="#3c3c3c"/>
<circle cx="236.44" cy="47.00" r="2.45" fill="#3c3c3c"/>
<circle cx="244.78" cy="47.00" r="2.45" fill="#3c3c3c"/>
<circle cx="253.12" cy="47.00" r="2.45" fill="#3c3c3c"/>
<circle cx="261.46" cy="47.00" r="2.45" fill="#3c3c3c"/>
<circle cx="269.80" cy="47.00" r="2.45" fill="#3c3c3c"/>
<circle cx="278.14" cy="47.00" r="2.45" fill="#3c3c3c"/>
<circle cx="286.48" cy="47.00" r="2.45" fill="#3c3c3c"/>
<circle cx="294.82" cy="47.00" r="2.45" fill="#3c3c3c"/>
<circle cx="303.16" cy="47.00" r="2.45" fill="#3c3c3c"/>
<circle cx="311.50" cy="47.00" r="2.45" fill="#3c3c3c"/>
<circle cx="69.64" cy="171.80" r="2.45" fill="#168a82"/>
<circle cx="77.98" cy="52.90" r="2.45" fill="#168a82"/>
<circle cx="86.32" cy="48.80" r="2.45" fill="#168a82"/>
<circle cx="103.00" cy="46.90" r="2.45" fill="#168a82"/>
<circle cx="111.34" cy="46.90" r="2.45" fill="#168a82"/>
<circle cx="119.68" cy="46.90" r="2.45" fill="#168a82"/>
<circle cx="128.02" cy="46.90" r="2.45" fill="#168a82"/>
<circle cx="136.36" cy="46.90" r="2.45" fill="#168a82"/>
<circle cx="144.70" cy="46.90" r="2.45" fill="#168a82"/>
<circle cx="153.04" cy="46.90" r="2.45" fill="#168a82"/>
<circle cx="161.38" cy="46.90" r="2.45" fill="#168a82"/>
<circle cx="169.72" cy="46.90" r="2.45" fill="#168a82"/>
<circle cx="178.06" cy="46.90" r="2.45" fill="#168a82"/>
<circle cx="186.40" cy="46.90" r="2.45" fill="#168a82"/>
<circle cx="194.74" cy="46.90" r="2.45" fill="#168a82"/>
<circle cx="203.08" cy="46.90" r="2.45" fill="#168a82"/>
<circle cx="211.42" cy="46.90" r="2.45" fill="#168a82"/>
<circle cx="219.76" cy="46.90" r="2.45" fill="#168a82"/>
<circle cx="228.10" cy="46.90" r="2.45" fill="#168a82"/>
<circle cx="236.44" cy="46.90" r="2.45" fill="#168a82"/>
<circle cx="244.78" cy="46.90" r="2.45" fill="#168a82"/>
<circle cx="253.12" cy="46.90" r="2.45" fill="#168a82"/>
<circle cx="261.46" cy="46.90" r="2.45" fill="#168a82"/>
<circle cx="269.80" cy="46.90" r="2.45" fill="#168a82"/>
<circle cx="278.14" cy="46.90" r="2.45" fill="#168a82"/>
<circle cx="286.48" cy="46.90" r="2.45" fill="#168a82"/>
<circle cx="294.82" cy="46.90" r="2.45" fill="#168a82"/>
<circle cx="303.16" cy="46.90" r="2.45" fill="#168a82"/>
<circle cx="311.50" cy="46.90" r="2.45" fill="#168a82"/>
<circle cx="69.64" cy="181.20" r="2.45" fill="#ff2b2b"/>
<circle cx="77.98" cy="66.10" r="2.45" fill="#ff2b2b"/>
<circle cx="86.32" cy="61.60" r="2.45" fill="#ff2b2b"/>
<circle cx="94.66" cy="60.90" r="2.45" fill="#ff2b2b"/>
<circle cx="103.00" cy="51.40" r="2.45" fill="#ff2b2b"/>
<circle cx="111.34" cy="51.40" r="2.45" fill="#ff2b2b"/>
<circle cx="119.68" cy="51.39" r="2.45" fill="#ff2b2b"/>
<circle cx="128.02" cy="51.39" r="2.45" fill="#ff2b2b"/>
<circle cx="136.36" cy="51.38" r="2.45" fill="#ff2b2b"/>
<circle cx="144.70" cy="51.38" r="2.45" fill="#ff2b2b"/>
<circle cx="153.04" cy="51.38" r="2.45" fill="#ff2b2b"/>
<circle cx="161.38" cy="51.37" r="2.45" fill="#ff2b2b"/>
<circle cx="169.72" cy="51.37" r="2.45" fill="#ff2b2b"/>
<circle cx="178.06" cy="51.36" r="2.45" fill="#ff2b2b"/>
<circle cx="186.40" cy="51.36" r="2.45" fill="#ff2b2b"/>
<circle cx="194.74" cy="51.36" r="2.45" fill="#ff2b2b"/>
<circle cx="203.08" cy="51.35" r="2.45" fill="#ff2b2b"/>
<circle cx="211.42" cy="51.35" r="2.45" fill="#ff2b2b"/>
<circle cx="219.76" cy="51.34" r="2.45" fill="#ff2b2b"/>
<circle cx="228.10" cy="51.34" r="2.45" fill="#ff2b2b"/>
<circle cx="236.44" cy="51.34" r="2.45" fill="#ff2b2b"/>
<circle cx="244.78" cy="51.33" r="2.45" fill="#ff2b2b"/>
<circle cx="253.12" cy="51.33" r="2.45" fill="#ff2b2b"/>
<circle cx="261.46" cy="51.32" r="2.45" fill="#ff2b2b"/>
<circle cx="269.80" cy="51.32" r="2.45" fill="#ff2b2b"/>
<circle cx="278.14" cy="51.32" r="2.45" fill="#ff2b2b"/>
<circle cx="286.48" cy="51.31" r="2.45" fill="#ff2b2b"/>
<circle cx="294.82" cy="51.31" r="2.45" fill="#ff2b2b"/>
<circle cx="303.16" cy="51.30" r="2.45" fill="#ff2b2b"/>
<circle cx="311.50" cy="51.30" r="2.45" fill="#ff2b2b"/>
<circle cx="69.64" cy="173.70" r="2.45" fill="#0000a0"/>
<circle cx="77.98" cy="57.80" r="2.45" fill="#0000a0"/>
<circle cx="86.32" cy="53.90" r="2.45" fill="#0000a0"/>
<circle cx="94.66" cy="52.60" r="2.45" fill="#0000a0"/>
<circle cx="103.00" cy="47.90" r="2.45" fill="#0000a0"/>
<circle cx="111.34" cy="47.90" r="2.45" fill="#0000a0"/>
<circle cx="119.68" cy="47.90" r="2.45" fill="#0000a0"/>
<circle cx="128.02" cy="47.90" r="2.45" fill="#0000a0"/>
<circle cx="136.36" cy="47.90" r="2.45" fill="#0000a0"/>
<circle cx="144.70" cy="47.90" r="2.45" fill="#0000a0"/>
<circle cx="153.04" cy="47.90" r="2.45" fill="#0000a0"/>
<circle cx="161.38" cy="47.90" r="2.45" fill="#0000a0"/>
<circle cx="169.72" cy="47.90" r="2.45" fill="#0000a0"/>
<circle cx="178.06" cy="47.90" r="2.45" fill="#0000a0"/>
<circle cx="186.40" cy="47.90" r="2.45" fill="#0000a0"/>
<circle cx="194.74" cy="47.90" r="2.45" fill="#0000a0"/>
<circle cx="203.08" cy="47.90" r="2.45" fill="#0000a0"/>
<circle cx="211.42" cy="47.90" r="2.45" fill="#0000a0"/>
<circle cx="219.76" cy="47.90" r="2.45" fill="#0000a0"/>
<circle cx="228.10" cy="47.90" r="2.45" fill="#0000a0"/>
<circle cx="236.44" cy="47.90" r="2.45" fill="#0000a0"/>
<circle cx="244.78" cy="47.90" r="2.45" fill="#0000a0"/>
<circle cx="253.12" cy="47.90" r="2.45" fill="#0000a0"/>
<circle cx="261.46" cy="47.90" r="2.45" fill="#0000a0"/>
<circle cx="269.80" cy="47.90" r="2.45" fill="#0000a0"/>
<circle cx="278.14" cy="47.90" r="2.45" fill="#0000a0"/>
<circle cx="286.48" cy="47.90" r="2.45" fill="#0000a0"/>
<circle cx="294.82" cy="47.90" r="2.45" fill="#0000a0"/>
<circle cx="303.16" cy="47.90" r="2.45" fill="#0000a0"/>
<circle cx="311.50" cy="47.90" r="2.45" fill="#0000a0"/>
</g>
<line x1="61.30" y1="6.00" x2="311.50" y2="6.00" stroke="#3a3a3a" stroke-width="1"/>
<line x1="61.30" y1="208.20" x2="311.50" y2="208.20" stroke="#3a3a3a" stroke-width="1"/>
<line x1="311.50" y1="6.00" x2="311.50" y2="208.00" stroke="#3a3a3a" stroke-width="1"/>
<line x1="61.30" y1="6.00" x2="61.30" y2="105.80" stroke="#3a3a3a" stroke-width="1"/>
<line x1="61.30" y1="108.60" x2="61.30" y2="208.00" stroke="#3a3a3a" stroke-width="1"/>
<line x1="57.30" y1="106.90" x2="64.80" y2="104.50" stroke="#3a3a3a" stroke-width="0.9"/>
<line x1="57.30" y1="109.70" x2="64.80" y2="107.30" stroke="#3a3a3a" stroke-width="0.9"/>
<rect x="58.5" y="105.9" width="5.5" height="2.6" fill="none"/>
<line x1="61.30" y1="208.00" x2="61.30" y2="211.80" stroke="#3a3a3a" stroke-width="1"/>
<line x1="61.30" y1="6.00" x2="61.30" y2="10.00" stroke="#3a3a3a" stroke-width="1"/>
<text x="61.30" y="221.60" font-size="8.2" text-anchor="middle" fill="#222222" stroke="#222222" stroke-width="0.22" >0</text>
<line x1="82.15" y1="208.00" x2="82.15" y2="209.80" stroke="#3a3a3a" stroke-width="1"/>
<line x1="82.15" y1="6.00" x2="82.15" y2="7.80" stroke="#3a3a3a" stroke-width="1"/>
<line x1="103.00" y1="208.00" x2="103.00" y2="211.80" stroke="#3a3a3a" stroke-width="1"/>
<line x1="103.00" y1="6.00" x2="103.00" y2="10.00" stroke="#3a3a3a" stroke-width="1"/>
<text x="103.00" y="221.60" font-size="8.2" text-anchor="middle" fill="#222222" stroke="#222222" stroke-width="0.22" >5</text>
<line x1="123.85" y1="208.00" x2="123.85" y2="209.80" stroke="#3a3a3a" stroke-width="1"/>
<line x1="123.85" y1="6.00" x2="123.85" y2="7.80" stroke="#3a3a3a" stroke-width="1"/>
<line x1="144.70" y1="208.00" x2="144.70" y2="211.80" stroke="#3a3a3a" stroke-width="1"/>
<line x1="144.70" y1="6.00" x2="144.70" y2="10.00" stroke="#3a3a3a" stroke-width="1"/>
<text x="144.70" y="221.60" font-size="8.2" text-anchor="middle" fill="#222222" stroke="#222222" stroke-width="0.22" >10</text>
<line x1="165.55" y1="208.00" x2="165.55" y2="209.80" stroke="#3a3a3a" stroke-width="1"/>
<line x1="165.55" y1="6.00" x2="165.55" y2="7.80" stroke="#3a3a3a" stroke-width="1"/>
<line x1="186.40" y1="208.00" x2="186.40" y2="211.80" stroke="#3a3a3a" stroke-width="1"/>
<line x1="186.40" y1="6.00" x2="186.40" y2="10.00" stroke="#3a3a3a" stroke-width="1"/>
<text x="186.40" y="221.60" font-size="8.2" text-anchor="middle" fill="#222222" stroke="#222222" stroke-width="0.22" >15</text>
<line x1="207.25" y1="208.00" x2="207.25" y2="209.80" stroke="#3a3a3a" stroke-width="1"/>
<line x1="207.25" y1="6.00" x2="207.25" y2="7.80" stroke="#3a3a3a" stroke-width="1"/>
<line x1="228.10" y1="208.00" x2="228.10" y2="211.80" stroke="#3a3a3a" stroke-width="1"/>
<line x1="228.10" y1="6.00" x2="228.10" y2="10.00" stroke="#3a3a3a" stroke-width="1"/>
<text x="228.10" y="221.60" font-size="8.2" text-anchor="middle" fill="#222222" stroke="#222222" stroke-width="0.22" >20</text>
<line x1="248.95" y1="208.00" x2="248.95" y2="209.80" stroke="#3a3a3a" stroke-width="1"/>
<line x1="248.95" y1="6.00" x2="248.95" y2="7.80" stroke="#3a3a3a" stroke-width="1"/>
<line x1="269.80" y1="208.00" x2="269.80" y2="211.80" stroke="#3a3a3a" stroke-width="1"/>
<line x1="269.80" y1="6.00" x2="269.80" y2="10.00" stroke="#3a3a3a" stroke-width="1"/>
<text x="269.80" y="221.60" font-size="8.2" text-anchor="middle" fill="#222222" stroke="#222222" stroke-width="0.22" >25</text>
<line x1="290.65" y1="208.00" x2="290.65" y2="209.80" stroke="#3a3a3a" stroke-width="1"/>
<line x1="290.65" y1="6.00" x2="290.65" y2="7.80" stroke="#3a3a3a" stroke-width="1"/>
<line x1="311.50" y1="208.00" x2="311.50" y2="211.80" stroke="#3a3a3a" stroke-width="1"/>
<line x1="311.50" y1="6.00" x2="311.50" y2="10.00" stroke="#3a3a3a" stroke-width="1"/>
<text x="311.50" y="221.60" font-size="8.2" text-anchor="middle" fill="#222222" stroke="#222222" stroke-width="0.22" >30</text>
<line x1="57.70" y1="6.00" x2="61.30" y2="6.00" stroke="#3a3a3a" stroke-width="1"/>
<text x="53.60" y="8.90" font-size="8.2" text-anchor="end" fill="#222222" stroke="#222222" stroke-width="0.22" >1600</text>
<line x1="57.70" y1="30.77" x2="61.30" y2="30.77" stroke="#3a3a3a" stroke-width="1"/>
<text x="53.60" y="33.67" font-size="8.2" text-anchor="end" fill="#222222" stroke="#222222" stroke-width="0.22" >1500</text>
<line x1="57.70" y1="55.54" x2="61.30" y2="55.54" stroke="#3a3a3a" stroke-width="1"/>
<text x="53.60" y="58.44" font-size="8.2" text-anchor="end" fill="#222222" stroke="#222222" stroke-width="0.22" >1400</text>
<line x1="57.70" y1="80.31" x2="61.30" y2="80.31" stroke="#3a3a3a" stroke-width="1"/>
<text x="53.60" y="83.21" font-size="8.2" text-anchor="end" fill="#222222" stroke="#222222" stroke-width="0.22" >1300</text>
<line x1="59.50" y1="18.38" x2="61.30" y2="18.38" stroke="#3a3a3a" stroke-width="1"/>
<line x1="59.50" y1="43.16" x2="61.30" y2="43.16" stroke="#3a3a3a" stroke-width="1"/>
<line x1="59.50" y1="67.93" x2="61.30" y2="67.93" stroke="#3a3a3a" stroke-width="1"/>
<line x1="59.50" y1="92.70" x2="61.30" y2="92.70" stroke="#3a3a3a" stroke-width="1"/>
<text x="53.60" y="108.00" font-size="8.2" text-anchor="end" fill="#222222" stroke="#222222" stroke-width="0.22" >1200</text>
<line x1="57.70" y1="133.69" x2="61.30" y2="133.69" stroke="#3a3a3a" stroke-width="1"/>
<text x="53.60" y="136.59" font-size="8.2" text-anchor="end" fill="#222222" stroke="#222222" stroke-width="0.22" >500</text>
<line x1="57.70" y1="158.46" x2="61.30" y2="158.46" stroke="#3a3a3a" stroke-width="1"/>
<text x="53.60" y="161.36" font-size="8.2" text-anchor="end" fill="#222222" stroke="#222222" stroke-width="0.22" >400</text>
<line x1="57.70" y1="183.23" x2="61.30" y2="183.23" stroke="#3a3a3a" stroke-width="1"/>
<text x="53.60" y="186.13" font-size="8.2" text-anchor="end" fill="#222222" stroke="#222222" stroke-width="0.22" >300</text>
<line x1="57.70" y1="208.00" x2="61.30" y2="208.00" stroke="#3a3a3a" stroke-width="1"/>
<text x="53.60" y="210.90" font-size="8.2" text-anchor="end" fill="#222222" stroke="#222222" stroke-width="0.22" >200</text>
<line x1="59.50" y1="121.30" x2="61.30" y2="121.30" stroke="#3a3a3a" stroke-width="1"/>
<line x1="59.50" y1="146.07" x2="61.30" y2="146.07" stroke="#3a3a3a" stroke-width="1"/>
<line x1="59.50" y1="170.84" x2="61.30" y2="170.84" stroke="#3a3a3a" stroke-width="1"/>
<line x1="59.50" y1="195.62" x2="61.30" y2="195.62" stroke="#3a3a3a" stroke-width="1"/>
<line x1="311.50" y1="6.00" x2="315.30" y2="6.00" stroke="#3a3a3a" stroke-width="1"/>
<text x="318.80" y="8.90" font-size="8.2" text-anchor="start" fill="#222222" stroke="#222222" stroke-width="0.22" >120</text>
<line x1="311.50" y1="46.40" x2="315.30" y2="46.40" stroke="#3a3a3a" stroke-width="1"/>
<text x="318.80" y="49.30" font-size="8.2" text-anchor="start" fill="#222222" stroke="#222222" stroke-width="0.22" >100</text>
<line x1="311.50" y1="86.80" x2="315.30" y2="86.80" stroke="#3a3a3a" stroke-width="1"/>
<text x="318.80" y="89.70" font-size="8.2" text-anchor="start" fill="#222222" stroke="#222222" stroke-width="0.22" >80</text>
<line x1="311.50" y1="127.20" x2="315.30" y2="127.20" stroke="#3a3a3a" stroke-width="1"/>
<text x="318.80" y="130.10" font-size="8.2" text-anchor="start" fill="#222222" stroke="#222222" stroke-width="0.22" >60</text>
<line x1="311.50" y1="167.60" x2="315.30" y2="167.60" stroke="#3a3a3a" stroke-width="1"/>
<text x="318.80" y="170.50" font-size="8.2" text-anchor="start" fill="#222222" stroke="#222222" stroke-width="0.22" >40</text>
<line x1="311.50" y1="208.00" x2="315.30" y2="208.00" stroke="#3a3a3a" stroke-width="1"/>
<text x="318.80" y="210.90" font-size="8.2" text-anchor="start" fill="#222222" stroke="#222222" stroke-width="0.22" >20</text>
<line x1="311.50" y1="26.20" x2="313.50" y2="26.20" stroke="#3a3a3a" stroke-width="1"/>
<line x1="311.50" y1="66.60" x2="313.50" y2="66.60" stroke="#3a3a3a" stroke-width="1"/>
<line x1="311.50" y1="107.00" x2="313.50" y2="107.00" stroke="#3a3a3a" stroke-width="1"/>
<line x1="311.50" y1="147.40" x2="313.50" y2="147.40" stroke="#3a3a3a" stroke-width="1"/>
<line x1="311.50" y1="187.80" x2="313.50" y2="187.80" stroke="#3a3a3a" stroke-width="1"/>
<text x="0.00" y="0.00" font-size="10.5" text-anchor="middle" fill="#222222" stroke="#222222" stroke-width="0.22" transform="translate(28.6,106.0) rotate(-90)">Capacity (mAh/g)</text>
<text x="0.00" y="0.00" font-size="10.5" text-anchor="middle" fill="#222222" stroke="#222222" stroke-width="0.22" transform="translate(344.8,105.2) rotate(-90)">Coulombic efficency (%)</text>
<text x="186.4" y="239.7" font-size="10.5" text-anchor="middle" fill="#222222" stroke="#222222" stroke-width="0.22">Cycle (n<tspan font-size="7" dy="-4" stroke-width="0.05">th</tspan><tspan dy="4" stroke-width="0.22">)</tspan></text>
<g font-weight="bold" fill="#111" stroke="#111" stroke-width="0.45"><text x="0" y="26.9" font-size="22.5">(</text><text x="7.3" y="25.9" font-size="19.5">a</text><text x="18.9" y="26.9" font-size="22.5">)</text></g>
<rect x="271.3" y="71.2" width="37.4" height="59.4" fill="#fff" stroke="#b0b0b0" stroke-width="0.8"/>
<text x="273.4" y="82.60" font-size="11" fill="#2f2fb4" stroke="#2f2fb4" stroke-width="0.22"><tspan font-style="italic">np</tspan>Li30</text>
<text x="273.4" y="96.60" font-size="11" fill="#1f9690" stroke="#1f9690" stroke-width="0.22"><tspan font-style="italic">np</tspan>Li20</text>
<text x="273.4" y="110.60" font-size="11" fill="#ff4242" stroke="#ff4242" stroke-width="0.22"><tspan font-style="italic">np</tspan>Li10</text>
<text x="273.4" y="124.60" font-size="11" fill="#484848" stroke="#484848" stroke-width="0.22"><tspan font-style="italic">np</tspan>Li0</text>
<rect x="247.0" y="175.3" width="6.1" height="6.1" fill="#111"/>
<rect x="247.4" y="185.2" width="5.4" height="5.4" fill="#fff" stroke="#555" stroke-width="0.8"/>
<circle cx="250.0" cy="197.8" r="3.1" fill="#111"/>
<text x="256.00" y="181.60" font-size="8.1" text-anchor="start" fill="#222222" stroke="#222222" stroke-width="0.22" >Charge</text>
<text x="256.00" y="191.40" font-size="8.1" text-anchor="start" fill="#222222" stroke="#222222" stroke-width="0.22" >Discharge</text>
<text x="256.00" y="200.60" font-size="8.1" text-anchor="start" fill="#222222" stroke="#222222" stroke-width="0.22" >Coulombic eff.</text>
<defs><clipPath id="cb"><rect x="402.60" y="7.90" width="247.20" height="198.80"/></clipPath></defs>
<g clip-path="url(#cb)">
<line x1="402.60" y1="40.80" x2="649.80" y2="40.80" stroke="#c4c4c4" stroke-width="1.6"/>
<polyline points="410.84,114.40 419.08,165.00 427.32,167.00 435.56,180.20 443.80,183.30 452.04,183.80 460.28,183.90 468.52,184.00 476.76,184.10 485.00,184.20 493.24,184.24 501.48,184.28 509.72,184.32 517.96,184.36 526.20,184.40 534.44,184.44 542.68,184.48 550.92,184.52 559.16,184.56 567.40,184.60 575.64,184.63 583.88,184.66 592.12,184.69 600.36,184.72 608.60,184.75 616.84,184.78 625.08,184.81 633.32,184.84 641.56,184.87 649.80,184.90" fill="none" stroke="#8ed6b8" stroke-width="0.7" opacity="1"/>
<polyline points="410.84,88.90 419.08,161.40 427.32,163.00 435.56,169.60 443.80,172.80 452.04,173.12 460.28,173.44 468.52,173.76 476.76,174.08 485.00,174.40 493.24,174.54 501.48,174.68 509.72,174.82 517.96,174.96 526.20,175.10 534.44,175.24 542.68,175.38 550.92,175.52 559.16,175.66 567.40,175.80 575.64,175.90 583.88,176.00 592.12,176.10 600.36,176.20 608.60,176.30 616.84,176.40 625.08,176.50 633.32,176.60 641.56,176.70 649.80,176.80" fill="none" stroke="#b4b4ea" stroke-width="0.7" opacity="1"/>
<polyline points="410.84,35.60 419.08,152.00 427.32,157.00 435.56,168.50 443.80,172.20 452.04,172.80 460.28,173.00 468.52,173.20 476.76,173.40 485.00,173.60 493.24,173.70 501.48,173.80 509.72,173.90 517.96,174.00 526.20,174.10 534.44,174.20 542.68,174.30 550.92,174.40 559.16,174.50 567.40,174.60 575.64,174.68 583.88,174.76 592.12,174.84 600.36,174.92 608.60,175.00 616.84,175.08 625.08,175.16 633.32,175.24 641.56,175.32 649.80,175.40" fill="none" stroke="#eccd7a" stroke-width="0.7" opacity="1"/>
<polyline points="410.84,27.80 419.08,149.00 427.32,155.10 435.56,167.40 443.80,170.30 452.04,171.00 460.28,171.60 468.52,171.83 476.76,172.07 485.00,172.30 493.24,172.39 501.48,172.47 509.72,172.56 517.96,172.64 526.20,172.73 534.44,172.81 542.68,172.90 550.92,173.07 559.16,173.23 567.40,173.40 575.64,173.49 583.88,173.58 592.12,173.67 600.36,173.76 608.60,173.85 616.84,173.94 625.08,174.03 633.32,174.12 641.56,174.21 649.80,174.30" fill="none" stroke="#b0b0b0" stroke-width="0.7" opacity="1"/>
<polyline points="410.84,163.40 419.08,168.80 427.32,170.10 435.56,183.60 443.80,183.40 452.04,183.58 460.28,183.76 468.52,183.94 476.76,184.12 485.00,184.30 493.24,184.34 501.48,184.38 509.72,184.42 517.96,184.46 526.20,184.50 534.44,184.54 542.68,184.58 550.92,184.62 559.16,184.66 567.40,184.70 575.64,184.73 583.88,184.76 592.12,184.79 600.36,184.82 608.60,184.85 616.84,184.88 625.08,184.91 633.32,184.94 641.56,184.97 649.80,185.00" fill="none" stroke="#8ed6b8" stroke-width="0.7" opacity="1"/>
<polyline points="410.84,157.00 419.08,160.00 427.32,162.20 435.56,171.00 443.80,173.00 452.04,173.32 460.28,173.64 468.52,173.96 476.76,174.28 485.00,174.60 493.24,174.74 501.48,174.88 509.72,175.02 517.96,175.16 526.20,175.30 534.44,175.44 542.68,175.58 550.92,175.72 559.16,175.86 567.40,176.00 575.64,176.10 583.88,176.20 592.12,176.30 600.36,176.40 608.60,176.50 616.84,176.60 625.08,176.70 633.32,176.80 641.56,176.90 649.80,177.00" fill="none" stroke="#b4b4ea" stroke-width="0.7" opacity="1"/>
<polyline points="410.84,152.30 419.08,154.00 427.32,158.90 435.56,174.00 443.80,172.40 452.04,172.68 460.28,172.96 468.52,173.24 476.76,173.52 485.00,173.80 493.24,173.90 501.48,174.00 509.72,174.10 517.96,174.20 526.20,174.30 534.44,174.40 542.68,174.50 550.92,174.60 559.16,174.70 567.40,174.80 575.64,174.88 583.88,174.96 592.12,175.04 600.36,175.12 608.60,175.20 616.84,175.28 625.08,175.36 633.32,175.44 641.56,175.52 649.80,175.60" fill="none" stroke="#eccd7a" stroke-width="0.7" opacity="1"/>
<polyline points="410.84,148.90 419.08,156.50 427.32,157.00 435.56,170.00 443.80,170.50 452.04,170.90 460.28,171.30 468.52,171.70 476.76,172.10 485.00,172.50 493.24,172.61 501.48,172.72 509.72,172.83 517.96,172.94 526.20,173.05 534.44,173.16 542.68,173.27 550.92,173.38 559.16,173.49 567.40,173.60 575.64,173.69 583.88,173.78 592.12,173.87 600.36,173.96 608.60,174.05 616.84,174.14 625.08,174.23 633.32,174.32 641.56,174.41 649.80,174.50" fill="none" stroke="#b0b0b0" stroke-width="0.7" opacity="1"/>
<polyline points="410.84,164.00 419.08,57.20 427.32,51.00 435.56,57.50 443.80,46.30 452.04,44.40 460.28,43.95 468.52,43.50 476.76,43.40 485.00,43.30 493.24,43.20 501.48,43.10 509.72,43.00 517.96,42.90 526.20,42.80 534.44,42.64 542.68,42.48 550.92,42.32 559.16,42.16 567.40,42.00 575.64,41.97 583.88,41.94 592.12,41.91 600.36,41.88 608.60,41.85 616.84,41.82 625.08,41.79 633.32,41.76 641.56,41.73 649.80,41.70" fill="none" stroke="#82cdb0" stroke-width="0.7" opacity="1"/>
<polyline points="410.84,165.80 419.08,58.80 427.32,49.00 435.56,55.70 443.80,45.40 452.04,43.70 460.28,43.30 468.52,42.80 476.76,42.70 485.00,42.60 493.24,42.50 501.48,42.40 509.72,42.30 517.96,42.20 526.20,42.10 534.44,41.96 542.68,41.82 550.92,41.68 559.16,41.54 567.40,41.40 575.64,41.35 583.88,41.30 592.12,41.25 600.36,41.20 608.60,41.15 616.84,41.10 625.08,41.05 633.32,41.00 641.56,40.95 649.80,40.90" fill="none" stroke="#b2b2b2" stroke-width="0.7" opacity="1"/>
<polyline points="410.84,168.90 419.08,55.10 427.32,44.80 435.56,58.60 443.80,43.00 452.04,41.90 460.28,41.50 468.52,41.41 476.76,41.33 485.00,41.24 493.24,41.15 501.48,41.06 509.72,40.97 517.96,40.89 526.20,40.80 534.44,40.60 542.68,40.40 550.92,40.20 559.16,40.00 567.40,39.80 575.64,39.75 583.88,39.70 592.12,39.65 600.36,39.60 608.60,39.55 616.84,39.50 625.08,39.45 633.32,39.40 641.56,39.35 649.80,39.30" fill="none" stroke="#eec468" stroke-width="0.7" opacity="1"/>
<polyline points="410.84,160.30 419.08,35.60 427.32,24.70 435.56,48.30 443.80,40.00 452.04,38.70 460.28,38.30 468.52,38.00 476.76,37.90 485.00,37.80 493.24,37.70 501.48,37.60 509.72,37.50 517.96,37.40 526.20,37.30 534.44,37.14 542.68,36.98 550.92,36.82 559.16,36.66 567.40,36.50 575.64,36.45 583.88,36.40 592.12,36.35 600.36,36.30 608.60,36.25 616.84,36.20 625.08,36.15 633.32,36.10 641.56,36.05 649.80,36.00" fill="none" stroke="#acacea" stroke-width="0.7" opacity="1"/>
<rect x="408.79" y="161.35" width="4.10" height="4.10" fill="#1f9a68" stroke="#1f9a68" stroke-width="0.3"/>
<rect x="417.03" y="166.75" width="4.10" height="4.10" fill="#1f9a68" stroke="#1f9a68" stroke-width="0.3"/>
<rect x="425.27" y="168.05" width="4.10" height="4.10" fill="#1f9a68" stroke="#1f9a68" stroke-width="0.3"/>
<rect x="433.51" y="181.55" width="4.10" height="4.10" fill="#1f9a68" stroke="#1f9a68" stroke-width="0.3"/>
<rect x="441.75" y="181.35" width="4.10" height="4.10" fill="#1f9a68" stroke="#1f9a68" stroke-width="0.3"/>
<rect x="449.99" y="181.53" width="4.10" height="4.10" fill="#1f9a68" stroke="#1f9a68" stroke-width="0.3"/>
<rect x="458.23" y="181.71" width="4.10" height="4.10" fill="#1f9a68" stroke="#1f9a68" stroke-width="0.3"/>
<rect x="466.47" y="181.89" width="4.10" height="4.10" fill="#1f9a68" stroke="#1f9a68" stroke-width="0.3"/>
<rect x="474.71" y="182.07" width="4.10" height="4.10" fill="#1f9a68" stroke="#1f9a68" stroke-width="0.3"/>
<rect x="482.95" y="182.25" width="4.10" height="4.10" fill="#1f9a68" stroke="#1f9a68" stroke-width="0.3"/>
<rect x="491.19" y="182.29" width="4.10" height="4.10" fill="#1f9a68" stroke="#1f9a68" stroke-width="0.3"/>
<rect x="499.43" y="182.33" width="4.10" height="4.10" fill="#1f9a68" stroke="#1f9a68" stroke-width="0.3"/>
<rect x="507.67" y="182.37" width="4.10" height="4.10" fill="#1f9a68" stroke="#1f9a68" stroke-width="0.3"/>
<rect x="515.91" y="182.41" width="4.10" height="4.10" fill="#1f9a68" stroke="#1f9a68" stroke-width="0.3"/>
<rect x="524.15" y="182.45" width="4.10" height="4.10" fill="#1f9a68" stroke="#1f9a68" stroke-width="0.3"/>
<rect x="532.39" y="182.49" width="4.10" height="4.10" fill="#1f9a68" stroke="#1f9a68" stroke-width="0.3"/>
<rect x="540.63" y="182.53" width="4.10" height="4.10" fill="#1f9a68" stroke="#1f9a68" stroke-width="0.3"/>
<rect x="548.87" y="182.57" width="4.10" height="4.10" fill="#1f9a68" stroke="#1f9a68" stroke-width="0.3"/>
<rect x="557.11" y="182.61" width="4.10" height="4.10" fill="#1f9a68" stroke="#1f9a68" stroke-width="0.3"/>
<rect x="565.35" y="182.65" width="4.10" height="4.10" fill="#1f9a68" stroke="#1f9a68" stroke-width="0.3"/>
<rect x="573.59" y="182.68" width="4.10" height="4.10" fill="#1f9a68" stroke="#1f9a68" stroke-width="0.3"/>
<rect x="581.83" y="182.71" width="4.10" height="4.10" fill="#1f9a68" stroke="#1f9a68" stroke-width="0.3"/>
<rect x="590.07" y="182.74" width="4.10" height="4.10" fill="#1f9a68" stroke="#1f9a68" stroke-width="0.3"/>
<rect x="598.31" y="182.77" width="4.10" height="4.10" fill="#1f9a68" stroke="#1f9a68" stroke-width="0.3"/>
<rect x="606.55" y="182.80" width="4.10" height="4.10" fill="#1f9a68" stroke="#1f9a68" stroke-width="0.3"/>
<rect x="614.79" y="182.83" width="4.10" height="4.10" fill="#1f9a68" stroke="#1f9a68" stroke-width="0.3"/>
<rect x="623.03" y="182.86" width="4.10" height="4.10" fill="#1f9a68" stroke="#1f9a68" stroke-width="0.3"/>
<rect x="631.27" y="182.89" width="4.10" height="4.10" fill="#1f9a68" stroke="#1f9a68" stroke-width="0.3"/>
<rect x="639.51" y="182.92" width="4.10" height="4.10" fill="#1f9a68" stroke="#1f9a68" stroke-width="0.3"/>
<rect x="647.75" y="182.95" width="4.10" height="4.10" fill="#1f9a68" stroke="#1f9a68" stroke-width="0.3"/>
<rect x="408.79" y="154.95" width="4.10" height="4.10" fill="#6d6dc4" stroke="#6d6dc4" stroke-width="0.3"/>
<rect x="417.03" y="157.95" width="4.10" height="4.10" fill="#6d6dc4" stroke="#6d6dc4" stroke-width="0.3"/>
<rect x="425.27" y="160.15" width="4.10" height="4.10" fill="#6d6dc4" stroke="#6d6dc4" stroke-width="0.3"/>
<rect x="433.51" y="168.95" width="4.10" height="4.10" fill="#6d6dc4" stroke="#6d6dc4" stroke-width="0.3"/>
<rect x="441.75" y="170.95" width="4.10" height="4.10" fill="#6d6dc4" stroke="#6d6dc4" stroke-width="0.3"/>
<rect x="449.99" y="171.27" width="4.10" height="4.10" fill="#6d6dc4" stroke="#6d6dc4" stroke-width="0.3"/>
<rect x="458.23" y="171.59" width="4.10" height="4.10" fill="#6d6dc4" stroke="#6d6dc4" stroke-width="0.3"/>
<rect x="466.47" y="171.91" width="4.10" height="4.10" fill="#6d6dc4" stroke="#6d6dc4" stroke-width="0.3"/>
<rect x="474.71" y="172.23" width="4.10" height="4.10" fill="#6d6dc4" stroke="#6d6dc4" stroke-width="0.3"/>
<rect x="482.95" y="172.55" width="4.10" height="4.10" fill="#6d6dc4" stroke="#6d6dc4" stroke-width="0.3"/>
<rect x="491.19" y="172.69" width="4.10" height="4.10" fill="#6d6dc4" stroke="#6d6dc4" stroke-width="0.3"/>
<rect x="499.43" y="172.83" width="4.10" height="4.10" fill="#6d6dc4" stroke="#6d6dc4" stroke-width="0.3"/>
<rect x="507.67" y="172.97" width="4.10" height="4.10" fill="#6d6dc4" stroke="#6d6dc4" stroke-width="0.3"/>
<rect x="515.91" y="173.11" width="4.10" height="4.10" fill="#6d6dc4" stroke="#6d6dc4" stroke-width="0.3"/>
<rect x="524.15" y="173.25" width="4.10" height="4.10" fill="#6d6dc4" stroke="#6d6dc4" stroke-width="0.3"/>
<rect x="532.39" y="173.39" width="4.10" height="4.10" fill="#6d6dc4" stroke="#6d6dc4" stroke-width="0.3"/>
<rect x="540.63" y="173.53" width="4.10" height="4.10" fill="#6d6dc4" stroke="#6d6dc4" stroke-width="0.3"/>
<rect x="548.87" y="173.67" width="4.10" height="4.10" fill="#6d6dc4" stroke="#6d6dc4" stroke-width="0.3"/>
<rect x="557.11" y="173.81" width="4.10" height="4.10" fill="#6d6dc4" stroke="#6d6dc4" stroke-width="0.3"/>
<rect x="565.35" y="173.95" width="4.10" height="4.10" fill="#6d6dc4" stroke="#6d6dc4" stroke-width="0.3"/>
<rect x="573.59" y="174.05" width="4.10" height="4.10" fill="#6d6dc4" stroke="#6d6dc4" stroke-width="0.3"/>
<rect x="581.83" y="174.15" width="4.10" height="4.10" fill="#6d6dc4" stroke="#6d6dc4" stroke-width="0.3"/>
<rect x="590.07" y="174.25" width="4.10" height="4.10" fill="#6d6dc4" stroke="#6d6dc4" stroke-width="0.3"/>
<rect x="598.31" y="174.35" width="4.10" height="4.10" fill="#6d6dc4" stroke="#6d6dc4" stroke-width="0.3"/>
<rect x="606.55" y="174.45" width="4.10" height="4.10" fill="#6d6dc4" stroke="#6d6dc4" stroke-width="0.3"/>
<rect x="614.79" y="174.55" width="4.10" height="4.10" fill="#6d6dc4" stroke="#6d6dc4" stroke-width="0.3"/>
<rect x="623.03" y="174.65" width="4.10" height="4.10" fill="#6d6dc4" stroke="#6d6dc4" stroke-width="0.3"/>
<rect x="631.27" y="174.75" width="4.10" height="4.10" fill="#6d6dc4" stroke="#6d6dc4" stroke-width="0.3"/>
<rect x="639.51" y="174.85" width="4.10" height="4.10" fill="#6d6dc4" stroke="#6d6dc4" stroke-width="0.3"/>
<rect x="647.75" y="174.95" width="4.10" height="4.10" fill="#6d6dc4" stroke="#6d6dc4" stroke-width="0.3"/>
<rect x="408.79" y="150.25" width="4.10" height="4.10" fill="#f2b200" stroke="#f2b200" stroke-width="0.3"/>
<rect x="417.03" y="151.95" width="4.10" height="4.10" fill="#f2b200" stroke="#f2b200" stroke-width="0.3"/>
<rect x="425.27" y="156.85" width="4.10" height="4.10" fill="#f2b200" stroke="#f2b200" stroke-width="0.3"/>
<rect x="433.51" y="171.95" width="4.10" height="4.10" fill="#f2b200" stroke="#f2b200" stroke-width="0.3"/>
<rect x="441.75" y="170.35" width="4.10" height="4.10" fill="#f2b200" stroke="#f2b200" stroke-width="0.3"/>
<rect x="449.99" y="170.63" width="4.10" height="4.10" fill="#f2b200" stroke="#f2b200" stroke-width="0.3"/>
<rect x="458.23" y="170.91" width="4.10" height="4.10" fill="#f2b200" stroke="#f2b200" stroke-width="0.3"/>
<rect x="466.47" y="171.19" width="4.10" height="4.10" fill="#f2b200" stroke="#f2b200" stroke-width="0.3"/>
<rect x="474.71" y="171.47" width="4.10" height="4.10" fill="#f2b200" stroke="#f2b200" stroke-width="0.3"/>
<rect x="482.95" y="171.75" width="4.10" height="4.10" fill="#f2b200" stroke="#f2b200" stroke-width="0.3"/>
<rect x="491.19" y="171.85" width="4.10" height="4.10" fill="#f2b200" stroke="#f2b200" stroke-width="0.3"/>
<rect x="499.43" y="171.95" width="4.10" height="4.10" fill="#f2b200" stroke="#f2b200" stroke-width="0.3"/>
<rect x="507.67" y="172.05" width="4.10" height="4.10" fill="#f2b200" stroke="#f2b200" stroke-width="0.3"/>
<rect x="515.91" y="172.15" width="4.10" height="4.10" fill="#f2b200" stroke="#f2b200" stroke-width="0.3"/>
<rect x="524.15" y="172.25" width="4.10" height="4.10" fill="#f2b200" stroke="#f2b200" stroke-width="0.3"/>
<rect x="532.39" y="172.35" width="4.10" height="4.10" fill="#f2b200" stroke="#f2b200" stroke-width="0.3"/>
<rect x="540.63" y="172.45" width="4.10" height="4.10" fill="#f2b200" stroke="#f2b200" stroke-width="0.3"/>
<rect x="548.87" y="172.55" width="4.10" height="4.10" fill="#f2b200" stroke="#f2b200" stroke-width="0.3"/>
<rect x="557.11" y="172.65" width="4.10" height="4.10" fill="#f2b200" stroke="#f2b200" stroke-width="0.3"/>
<rect x="565.35" y="172.75" width="4.10" height="4.10" fill="#f2b200" stroke="#f2b200" stroke-width="0.3"/>
<rect x="573.59" y="172.83" width="4.10" height="4.10" fill="#f2b200" stroke="#f2b200" stroke-width="0.3"/>
<rect x="581.83" y="172.91" width="4.10" height="4.10" fill="#f2b200" stroke="#f2b200" stroke-width="0.3"/>
<rect x="590.07" y="172.99" width="4.10" height="4.10" fill="#f2b200" stroke="#f2b200" stroke-width="0.3"/>
<rect x="598.31" y="173.07" width="4.10" height="4.10" fill="#f2b200" stroke="#f2b200" stroke-width="0.3"/>
<rect x="606.55" y="173.15" width="4.10" height="4.10" fill="#f2b200" stroke="#f2b200" stroke-width="0.3"/>
<rect x="614.79" y="173.23" width="4.10" height="4.10" fill="#f2b200" stroke="#f2b200" stroke-width="0.3"/>
<rect x="623.03" y="173.31" width="4.10" height="4.10" fill="#f2b200" stroke="#f2b200" stroke-width="0.3"/>
<rect x="631.27" y="173.39" width="4.10" height="4.10" fill="#f2b200" stroke="#f2b200" stroke-width="0.3"/>
<rect x="639.51" y="173.47" width="4.10" height="4.10" fill="#f2b200" stroke="#f2b200" stroke-width="0.3"/>
<rect x="647.75" y="173.55" width="4.10" height="4.10" fill="#f2b200" stroke="#f2b200" stroke-width="0.3"/>
<rect x="408.79" y="146.85" width="4.10" height="4.10" fill="#555555" stroke="#555555" stroke-width="0.3"/>
<rect x="417.03" y="154.45" width="4.10" height="4.10" fill="#555555" stroke="#555555" stroke-width="0.3"/>
<rect x="425.27" y="154.95" width="4.10" height="4.10" fill="#555555" stroke="#555555" stroke-width="0.3"/>
<rect x="433.51" y="167.95" width="4.10" height="4.10" fill="#555555" stroke="#555555" stroke-width="0.3"/>
<rect x="441.75" y="168.45" width="4.10" height="4.10" fill="#555555" stroke="#555555" stroke-width="0.3"/>
<rect x="449.99" y="168.85" width="4.10" height="4.10" fill="#555555" stroke="#555555" stroke-width="0.3"/>
<rect x="458.23" y="169.25" width="4.10" height="4.10" fill="#555555" stroke="#555555" stroke-width="0.3"/>
<rect x="466.47" y="169.65" width="4.10" height="4.10" fill="#555555" stroke="#555555" stroke-width="0.3"/>
<rect x="474.71" y="170.05" width="4.10" height="4.10" fill="#555555" stroke="#555555" stroke-width="0.3"/>
<rect x="482.95" y="170.45" width="4.10" height="4.10" fill="#555555" stroke="#555555" stroke-width="0.3"/>
<rect x="491.19" y="170.56" width="4.10" height="4.10" fill="#555555" stroke="#555555" stroke-width="0.3"/>
<rect x="499.43" y="170.67" width="4.10" height="4.10" fill="#555555" stroke="#555555" stroke-width="0.3"/>
<rect x="507.67" y="170.78" width="4.10" height="4.10" fill="#555555" stroke="#555555" stroke-width="0.3"/>
<rect x="515.91" y="170.89" width="4.10" height="4.10" fill="#555555" stroke="#555555" stroke-width="0.3"/>
<rect x="524.15" y="171.00" width="4.10" height="4.10" fill="#555555" stroke="#555555" stroke-width="0.3"/>
<rect x="532.39" y="171.11" width="4.10" height="4.10" fill="#555555" stroke="#555555" stroke-width="0.3"/>
<rect x="540.63" y="171.22" width="4.10" height="4.10" fill="#555555" stroke="#555555" stroke-width="0.3"/>
<rect x="548.87" y="171.33" width="4.10" height="4.10" fill="#555555" stroke="#555555" stroke-width="0.3"/>
<rect x="557.11" y="171.44" width="4.10" height="4.10" fill="#555555" stroke="#555555" stroke-width="0.3"/>
<rect x="565.35" y="171.55" width="4.10" height="4.10" fill="#555555" stroke="#555555" stroke-width="0.3"/>
<rect x="573.59" y="171.64" width="4.10" height="4.10" fill="#555555" stroke="#555555" stroke-width="0.3"/>
<rect x="581.83" y="171.73" width="4.10" height="4.10" fill="#555555" stroke="#555555" stroke-width="0.3"/>
<rect x="590.07" y="171.82" width="4.10" height="4.10" fill="#555555" stroke="#555555" stroke-width="0.3"/>
<rect x="598.31" y="171.91" width="4.10" height="4.10" fill="#555555" stroke="#555555" stroke-width="0.3"/>
<rect x="606.55" y="172.00" width="4.10" height="4.10" fill="#555555" stroke="#555555" stroke-width="0.3"/>
<rect x="614.79" y="172.09" width="4.10" height="4.10" fill="#555555" stroke="#555555" stroke-width="0.3"/>
<rect x="623.03" y="172.18" width="4.10" height="4.10" fill="#555555" stroke="#555555" stroke-width="0.3"/>
<rect x="631.27" y="172.27" width="4.10" height="4.10" fill="#555555" stroke="#555555" stroke-width="0.3"/>
<rect x="639.51" y="172.36" width="4.10" height="4.10" fill="#555555" stroke="#555555" stroke-width="0.3"/>
<rect x="647.75" y="172.45" width="4.10" height="4.10" fill="#555555" stroke="#555555" stroke-width="0.3"/>
<rect x="408.79" y="112.35" width="4.10" height="4.10" fill="#fff" stroke="#82cdb0" stroke-width="0.75"/>
<rect x="417.03" y="162.95" width="4.10" height="4.10" fill="#fff" stroke="#82cdb0" stroke-width="0.75"/>
<rect x="425.27" y="164.95" width="4.10" height="4.10" fill="#fff" stroke="#82cdb0" stroke-width="0.75"/>
<rect x="433.51" y="178.15" width="4.10" height="4.10" fill="#fff" stroke="#82cdb0" stroke-width="0.75"/>
<rect x="441.75" y="181.25" width="4.10" height="4.10" fill="#fff" stroke="#82cdb0" stroke-width="0.75"/>
<rect x="449.99" y="181.75" width="4.10" height="4.10" fill="#fff" stroke="#82cdb0" stroke-width="0.75"/>
<rect x="458.23" y="181.85" width="4.10" height="4.10" fill="#fff" stroke="#82cdb0" stroke-width="0.75"/>
<rect x="466.47" y="181.95" width="4.10" height="4.10" fill="#fff" stroke="#82cdb0" stroke-width="0.75"/>
<rect x="474.71" y="182.05" width="4.10" height="4.10" fill="#fff" stroke="#82cdb0" stroke-width="0.75"/>
<rect x="482.95" y="182.15" width="4.10" height="4.10" fill="#fff" stroke="#82cdb0" stroke-width="0.75"/>
<rect x="491.19" y="182.19" width="4.10" height="4.10" fill="#fff" stroke="#82cdb0" stroke-width="0.75"/>
<rect x="499.43" y="182.23" width="4.10" height="4.10" fill="#fff" stroke="#82cdb0" stroke-width="0.75"/>
<rect x="507.67" y="182.27" width="4.10" height="4.10" fill="#fff" stroke="#82cdb0" stroke-width="0.75"/>
<rect x="515.91" y="182.31" width="4.10" height="4.10" fill="#fff" stroke="#82cdb0" stroke-width="0.75"/>
<rect x="524.15" y="182.35" width="4.10" height="4.10" fill="#fff" stroke="#82cdb0" stroke-width="0.75"/>
<rect x="532.39" y="182.39" width="4.10" height="4.10" fill="#fff" stroke="#82cdb0" stroke-width="0.75"/>
<rect x="540.63" y="182.43" width="4.10" height="4.10" fill="#fff" stroke="#82cdb0" stroke-width="0.75"/>
<rect x="548.87" y="182.47" width="4.10" height="4.10" fill="#fff" stroke="#82cdb0" stroke-width="0.75"/>
<rect x="557.11" y="182.51" width="4.10" height="4.10" fill="#fff" stroke="#82cdb0" stroke-width="0.75"/>
<rect x="565.35" y="182.55" width="4.10" height="4.10" fill="#fff" stroke="#82cdb0" stroke-width="0.75"/>
<rect x="573.59" y="182.58" width="4.10" height="4.10" fill="#fff" stroke="#82cdb0" stroke-width="0.75"/>
<rect x="581.83" y="182.61" width="4.10" height="4.10" fill="#fff" stroke="#82cdb0" stroke-width="0.75"/>
<rect x="590.07" y="182.64" width="4.10" height="4.10" fill="#fff" stroke="#82cdb0" stroke-width="0.75"/>
<rect x="598.31" y="182.67" width="4.10" height="4.10" fill="#fff" stroke="#82cdb0" stroke-width="0.75"/>
<rect x="606.55" y="182.70" width="4.10" height="4.10" fill="#fff" stroke="#82cdb0" stroke-width="0.75"/>
<rect x="614.79" y="182.73" width="4.10" height="4.10" fill="#fff" stroke="#82cdb0" stroke-width="0.75"/>
<rect x="623.03" y="182.76" width="4.10" height="4.10" fill="#fff" stroke="#82cdb0" stroke-width="0.75"/>
<rect x="631.27" y="182.79" width="4.10" height="4.10" fill="#fff" stroke="#82cdb0" stroke-width="0.75"/>
<rect x="639.51" y="182.82" width="4.10" height="4.10" fill="#fff" stroke="#82cdb0" stroke-width="0.75"/>
<rect x="647.75" y="182.85" width="4.10" height="4.10" fill="#fff" stroke="#82cdb0" stroke-width="0.75"/>
<rect x="408.79" y="86.85" width="4.10" height="4.10" fill="#fff" stroke="#acacea" stroke-width="0.75"/>
<rect x="417.03" y="159.35" width="4.10" height="4.10" fill="#fff" stroke="#acacea" stroke-width="0.75"/>
<rect x="425.27" y="160.95" width="4.10" height="4.10" fill="#fff" stroke="#acacea" stroke-width="0.75"/>
<rect x="433.51" y="167.55" width="4.10" height="4.10" fill="#fff" stroke="#acacea" stroke-width="0.75"/>
<rect x="441.75" y="170.75" width="4.10" height="4.10" fill="#fff" stroke="#acacea" stroke-width="0.75"/>
<rect x="449.99" y="171.07" width="4.10" height="4.10" fill="#fff" stroke="#acacea" stroke-width="0.75"/>
<rect x="458.23" y="171.39" width="4.10" height="4.10" fill="#fff" stroke="#acacea" stroke-width="0.75"/>
<rect x="466.47" y="171.71" width="4.10" height="4.10" fill="#fff" stroke="#acacea" stroke-width="0.75"/>
<rect x="474.71" y="172.03" width="4.10" height="4.10" fill="#fff" stroke="#acacea" stroke-width="0.75"/>
<rect x="482.95" y="172.35" width="4.10" height="4.10" fill="#fff" stroke="#acacea" stroke-width="0.75"/>
<rect x="491.19" y="172.49" width="4.10" height="4.10" fill="#fff" stroke="#acacea" stroke-width="0.75"/>
<rect x="499.43" y="172.63" width="4.10" height="4.10" fill="#fff" stroke="#acacea" stroke-width="0.75"/>
<rect x="507.67" y="172.77" width="4.10" height="4.10" fill="#fff" stroke="#acacea" stroke-width="0.75"/>
<rect x="515.91" y="172.91" width="4.10" height="4.10" fill="#fff" stroke="#acacea" stroke-width="0.75"/>
<rect x="524.15" y="173.05" width="4.10" height="4.10" fill="#fff" stroke="#acacea" stroke-width="0.75"/>
<rect x="532.39" y="173.19" width="4.10" height="4.10" fill="#fff" stroke="#acacea" stroke-width="0.75"/>
<rect x="540.63" y="173.33" width="4.10" height="4.10" fill="#fff" stroke="#acacea" stroke-width="0.75"/>
<rect x="548.87" y="173.47" width="4.10" height="4.10" fill="#fff" stroke="#acacea" stroke-width="0.75"/>
<rect x="557.11" y="173.61" width="4.10" height="4.10" fill="#fff" stroke="#acacea" stroke-width="0.75"/>
<rect x="565.35" y="173.75" width="4.10" height="4.10" fill="#fff" stroke="#acacea" stroke-width="0.75"/>
<rect x="573.59" y="173.85" width="4.10" height="4.10" fill="#fff" stroke="#acacea" stroke-width="0.75"/>
<rect x="581.83" y="173.95" width="4.10" height="4.10" fill="#fff" stroke="#acacea" stroke-width="0.75"/>
<rect x="590.07" y="174.05" width="4.10" height="4.10" fill="#fff" stroke="#acacea" stroke-width="0.75"/>
<rect x="598.31" y="174.15" width="4.10" height="4.10" fill="#fff" stroke="#acacea" stroke-width="0.75"/>
<rect x="606.55" y="174.25" width="4.10" height="4.10" fill="#fff" stroke="#acacea" stroke-width="0.75"/>
<rect x="614.79" y="174.35" width="4.10" height="4.10" fill="#fff" stroke="#acacea" stroke-width="0.75"/>
<rect x="623.03" y="174.45" width="4.10" height="4.10" fill="#fff" stroke="#acacea" stroke-width="0.75"/>
<rect x="631.27" y="174.55" width="4.10" height="4.10" fill="#fff" stroke="#acacea" stroke-width="0.75"/>
<rect x="639.51" y="174.65" width="4.10" height="4.10" fill="#fff" stroke="#acacea" stroke-width="0.75"/>
<rect x="647.75" y="174.75" width="4.10" height="4.10" fill="#fff" stroke="#acacea" stroke-width="0.75"/>
<rect x="408.79" y="33.55" width="4.10" height="4.10" fill="#fff" stroke="#eec468" stroke-width="0.75"/>
<rect x="417.03" y="149.95" width="4.10" height="4.10" fill="#fff" stroke="#eec468" stroke-width="0.75"/>
<rect x="425.27" y="154.95" width="4.10" height="4.10" fill="#fff" stroke="#eec468" stroke-width="0.75"/>
<rect x="433.51" y="166.45" width="4.10" height="4.10" fill="#fff" stroke="#eec468" stroke-width="0.75"/>
<rect x="441.75" y="170.15" width="4.10" height="4.10" fill="#fff" stroke="#eec468" stroke-width="0.75"/>
<rect x="449.99" y="170.75" width="4.10" height="4.10" fill="#fff" stroke="#eec468" stroke-width="0.75"/>
<rect x="458.23" y="170.95" width="4.10" height="4.10" fill="#fff" stroke="#eec468" stroke-width="0.75"/>
<rect x="466.47" y="171.15" width="4.10" height="4.10" fill="#fff" stroke="#eec468" stroke-width="0.75"/>
<rect x="474.71" y="171.35" width="4.10" height="4.10" fill="#fff" stroke="#eec468" stroke-width="0.75"/>
<rect x="482.95" y="171.55" width="4.10" height="4.10" fill="#fff" stroke="#eec468" stroke-width="0.75"/>
<rect x="491.19" y="171.65" width="4.10" height="4.10" fill="#fff" stroke="#eec468" stroke-width="0.75"/>
<rect x="499.43" y="171.75" width="4.10" height="4.10" fill="#fff" stroke="#eec468" stroke-width="0.75"/>
<rect x="507.67" y="171.85" width="4.10" height="4.10" fill="#fff" stroke="#eec468" stroke-width="0.75"/>
<rect x="515.91" y="171.95" width="4.10" height="4.10" fill="#fff" stroke="#eec468" stroke-width="0.75"/>
<rect x="524.15" y="172.05" width="4.10" height="4.10" fill="#fff" stroke="#eec468" stroke-width="0.75"/>
<rect x="532.39" y="172.15" width="4.10" height="4.10" fill="#fff" stroke="#eec468" stroke-width="0.75"/>
<rect x="540.63" y="172.25" width="4.10" height="4.10" fill="#fff" stroke="#eec468" stroke-width="0.75"/>
<rect x="548.87" y="172.35" width="4.10" height="4.10" fill="#fff" stroke="#eec468" stroke-width="0.75"/>
<rect x="557.11" y="172.45" width="4.10" height="4.10" fill="#fff" stroke="#eec468" stroke-width="0.75"/>
<rect x="565.35" y="172.55" width="4.10" height="4.10" fill="#fff" stroke="#eec468" stroke-width="0.75"/>
<rect x="573.59" y="172.63" width="4.10" height="4.10" fill="#fff" stroke="#eec468" stroke-width="0.75"/>
<rect x="581.83" y="172.71" width="4.10" height="4.10" fill="#fff" stroke="#eec468" stroke-width="0.75"/>
<rect x="590.07" y="172.79" width="4.10" height="4.10" fill="#fff" stroke="#eec468" stroke-width="0.75"/>
<rect x="598.31" y="172.87" width="4.10" height="4.10" fill="#fff" stroke="#eec468" stroke-width="0.75"/>
<rect x="606.55" y="172.95" width="4.10" height="4.10" fill="#fff" stroke="#eec468" stroke-width="0.75"/>
<rect x="614.79" y="173.03" width="4.10" height="4.10" fill="#fff" stroke="#eec468" stroke-width="0.75"/>
<rect x="623.03" y="173.11" width="4.10" height="4.10" fill="#fff" stroke="#eec468" stroke-width="0.75"/>
<rect x="631.27" y="173.19" width="4.10" height="4.10" fill="#fff" stroke="#eec468" stroke-width="0.75"/>
<rect x="639.51" y="173.27" width="4.10" height="4.10" fill="#fff" stroke="#eec468" stroke-width="0.75"/>
<rect x="647.75" y="173.35" width="4.10" height="4.10" fill="#fff" stroke="#eec468" stroke-width="0.75"/>
<rect x="408.79" y="25.75" width="4.10" height="4.10" fill="#fff" stroke="#b2b2b2" stroke-width="0.75"/>
<rect x="417.03" y="146.95" width="4.10" height="4.10" fill="#fff" stroke="#b2b2b2" stroke-width="0.75"/>
<rect x="425.27" y="153.05" width="4.10" height="4.10" fill="#fff" stroke="#b2b2b2" stroke-width="0.75"/>
<rect x="433.51" y="165.35" width="4.10" height="4.10" fill="#fff" stroke="#b2b2b2" stroke-width="0.75"/>
<rect x="441.75" y="168.25" width="4.10" height="4.10" fill="#fff" stroke="#b2b2b2" stroke-width="0.75"/>
<rect x="449.99" y="168.95" width="4.10" height="4.10" fill="#fff" stroke="#b2b2b2" stroke-width="0.75"/>
<rect x="458.23" y="169.55" width="4.10" height="4.10" fill="#fff" stroke="#b2b2b2" stroke-width="0.75"/>
<rect x="466.47" y="169.78" width="4.10" height="4.10" fill="#fff" stroke="#b2b2b2" stroke-width="0.75"/>
<rect x="474.71" y="170.02" width="4.10" height="4.10" fill="#fff" stroke="#b2b2b2" stroke-width="0.75"/>
<rect x="482.95" y="170.25" width="4.10" height="4.10" fill="#fff" stroke="#b2b2b2" stroke-width="0.75"/>
<rect x="491.19" y="170.34" width="4.10" height="4.10" fill="#fff" stroke="#b2b2b2" stroke-width="0.75"/>
<rect x="499.43" y="170.42" width="4.10" height="4.10" fill="#fff" stroke="#b2b2b2" stroke-width="0.75"/>
<rect x="507.67" y="170.51" width="4.10" height="4.10" fill="#fff" stroke="#b2b2b2" stroke-width="0.75"/>
<rect x="515.91" y="170.59" width="4.10" height="4.10" fill="#fff" stroke="#b2b2b2" stroke-width="0.75"/>
<rect x="524.15" y="170.68" width="4.10" height="4.10" fill="#fff" stroke="#b2b2b2" stroke-width="0.75"/>
<rect x="532.39" y="170.76" width="4.10" height="4.10" fill="#fff" stroke="#b2b2b2" stroke-width="0.75"/>
<rect x="540.63" y="170.85" width="4.10" height="4.10" fill="#fff" stroke="#b2b2b2" stroke-width="0.75"/>
<rect x="548.87" y="171.02" width="4.10" height="4.10" fill="#fff" stroke="#b2b2b2" stroke-width="0.75"/>
<rect x="557.11" y="171.18" width="4.10" height="4.10" fill="#fff" stroke="#b2b2b2" stroke-width="0.75"/>
<rect x="565.35" y="171.35" width="4.10" height="4.10" fill="#fff" stroke="#b2b2b2" stroke-width="0.75"/>
<rect x="573.59" y="171.44" width="4.10" height="4.10" fill="#fff" stroke="#b2b2b2" stroke-width="0.75"/>
<rect x="581.83" y="171.53" width="4.10" height="4.10" fill="#fff" stroke="#b2b2b2" stroke-width="0.75"/>
<rect x="590.07" y="171.62" width="4.10" height="4.10" fill="#fff" stroke="#b2b2b2" stroke-width="0.75"/>
<rect x="598.31" y="171.71" width="4.10" height="4.10" fill="#fff" stroke="#b2b2b2" stroke-width="0.75"/>
<rect x="606.55" y="171.80" width="4.10" height="4.10" fill="#fff" stroke="#b2b2b2" stroke-width="0.75"/>
<rect x="614.79" y="171.89" width="4.10" height="4.10" fill="#fff" stroke="#b2b2b2" stroke-width="0.75"/>
<rect x="623.03" y="171.98" width="4.10" height="4.10" fill="#fff" stroke="#b2b2b2" stroke-width="0.75"/>
<rect x="631.27" y="172.07" width="4.10" height="4.10" fill="#fff" stroke="#b2b2b2" stroke-width="0.75"/>
<rect x="639.51" y="172.16" width="4.10" height="4.10" fill="#fff" stroke="#b2b2b2" stroke-width="0.75"/>
<rect x="647.75" y="172.25" width="4.10" height="4.10" fill="#fff" stroke="#b2b2b2" stroke-width="0.75"/>
<circle cx="410.84" cy="164.00" r="2.45" fill="#1f9a68"/>
<circle cx="419.08" cy="57.20" r="2.45" fill="#1f9a68"/>
<circle cx="427.32" cy="51.00" r="2.45" fill="#1f9a68"/>
<circle cx="435.56" cy="57.50" r="2.45" fill="#1f9a68"/>
<circle cx="443.80" cy="46.30" r="2.45" fill="#1f9a68"/>
<circle cx="452.04" cy="44.40" r="2.45" fill="#1f9a68"/>
<circle cx="460.28" cy="43.95" r="2.45" fill="#1f9a68"/>
<circle cx="468.52" cy="43.50" r="2.45" fill="#1f9a68"/>
<circle cx="476.76" cy="43.40" r="2.45" fill="#1f9a68"/>
<circle cx="485.00" cy="43.30" r="2.45" fill="#1f9a68"/>
<circle cx="493.24" cy="43.20" r="2.45" fill="#1f9a68"/>
<circle cx="501.48" cy="43.10" r="2.45" fill="#1f9a68"/>
<circle cx="509.72" cy="43.00" r="2.45" fill="#1f9a68"/>
<circle cx="517.96" cy="42.90" r="2.45" fill="#1f9a68"/>
<circle cx="526.20" cy="42.80" r="2.45" fill="#1f9a68"/>
<circle cx="534.44" cy="42.64" r="2.45" fill="#1f9a68"/>
<circle cx="542.68" cy="42.48" r="2.45" fill="#1f9a68"/>
<circle cx="550.92" cy="42.32" r="2.45" fill="#1f9a68"/>
<circle cx="559.16" cy="42.16" r="2.45" fill="#1f9a68"/>
<circle cx="567.40" cy="42.00" r="2.45" fill="#1f9a68"/>
<circle cx="575.64" cy="41.97" r="2.45" fill="#1f9a68"/>
<circle cx="583.88" cy="41.94" r="2.45" fill="#1f9a68"/>
<circle cx="592.12" cy="41.91" r="2.45" fill="#1f9a68"/>
<circle cx="600.36" cy="41.88" r="2.45" fill="#1f9a68"/>
<circle cx="608.60" cy="41.85" r="2.45" fill="#1f9a68"/>
<circle cx="616.84" cy="41.82" r="2.45" fill="#1f9a68"/>
<circle cx="625.08" cy="41.79" r="2.45" fill="#1f9a68"/>
<circle cx="633.32" cy="41.76" r="2.45" fill="#1f9a68"/>
<circle cx="641.56" cy="41.73" r="2.45" fill="#1f9a68"/>
<circle cx="649.80" cy="41.70" r="2.45" fill="#1f9a68"/>
<circle cx="410.84" cy="168.90" r="2.45" fill="#f2b200"/>
<circle cx="419.08" cy="55.10" r="2.45" fill="#f2b200"/>
<circle cx="427.32" cy="44.80" r="2.45" fill="#f2b200"/>
<circle cx="435.56" cy="58.60" r="2.45" fill="#f2b200"/>
<circle cx="443.80" cy="43.00" r="2.45" fill="#f2b200"/>
<circle cx="452.04" cy="41.90" r="2.45" fill="#f2b200"/>
<circle cx="460.28" cy="41.50" r="2.45" fill="#f2b200"/>
<circle cx="468.52" cy="41.41" r="2.45" fill="#f2b200"/>
<circle cx="476.76" cy="41.33" r="2.45" fill="#f2b200"/>
<circle cx="485.00" cy="41.24" r="2.45" fill="#f2b200"/>
<circle cx="493.24" cy="41.15" r="2.45" fill="#f2b200"/>
<circle cx="501.48" cy="41.06" r="2.45" fill="#f2b200"/>
<circle cx="509.72" cy="40.97" r="2.45" fill="#f2b200"/>
<circle cx="517.96" cy="40.89" r="2.45" fill="#f2b200"/>
<circle cx="526.20" cy="40.80" r="2.45" fill="#f2b200"/>
<circle cx="534.44" cy="40.60" r="2.45" fill="#f2b200"/>
<circle cx="542.68" cy="40.40" r="2.45" fill="#f2b200"/>
<circle cx="550.92" cy="40.20" r="2.45" fill="#f2b200"/>
<circle cx="559.16" cy="40.00" r="2.45" fill="#f2b200"/>
<circle cx="567.40" cy="39.80" r="2.45" fill="#f2b200"/>
<circle cx="575.64" cy="39.75" r="2.45" fill="#f2b200"/>
<circle cx="583.88" cy="39.70" r="2.45" fill="#f2b200"/>
<circle cx="592.12" cy="39.65" r="2.45" fill="#f2b200"/>
<circle cx="600.36" cy="39.60" r="2.45" fill="#f2b200"/>
<circle cx="608.60" cy="39.55" r="2.45" fill="#f2b200"/>
<circle cx="616.84" cy="39.50" r="2.45" fill="#f2b200"/>
<circle cx="625.08" cy="39.45" r="2.45" fill="#f2b200"/>
<circle cx="633.32" cy="39.40" r="2.45" fill="#f2b200"/>
<circle cx="641.56" cy="39.35" r="2.45" fill="#f2b200"/>
<circle cx="649.80" cy="39.30" r="2.45" fill="#f2b200"/>
<circle cx="410.84" cy="165.80" r="2.45" fill="#555555"/>
<circle cx="419.08" cy="58.80" r="2.45" fill="#555555"/>
<circle cx="427.32" cy="49.00" r="2.45" fill="#555555"/>
<circle cx="435.56" cy="55.70" r="2.45" fill="#555555"/>
<circle cx="443.80" cy="45.40" r="2.45" fill="#555555"/>
<circle cx="452.04" cy="43.70" r="2.45" fill="#555555"/>
<circle cx="460.28" cy="43.30" r="2.45" fill="#555555"/>
<circle cx="468.52" cy="42.80" r="2.45" fill="#555555"/>
<circle cx="476.76" cy="42.70" r="2.45" fill="#555555"/>
<circle cx="485.00" cy="42.60" r="2.45" fill="#555555"/>
<circle cx="493.24" cy="42.50" r="2.45" fill="#555555"/>
<circle cx="501.48" cy="42.40" r="2.45" fill="#555555"/>
<circle cx="509.72" cy="42.30" r="2.45" fill="#555555"/>
<circle cx="517.96" cy="42.20" r="2.45" fill="#555555"/>
<circle cx="526.20" cy="42.10" r="2.45" fill="#555555"/>
<circle cx="534.44" cy="41.96" r="2.45" fill="#555555"/>
<circle cx="542.68" cy="41.82" r="2.45" fill="#555555"/>
<circle cx="550.92" cy="41.68" r="2.45" fill="#555555"/>
<circle cx="559.16" cy="41.54" r="2.45" fill="#555555"/>
<circle cx="567.40" cy="41.40" r="2.45" fill="#555555"/>
<circle cx="575.64" cy="41.35" r="2.45" fill="#555555"/>
<circle cx="583.88" cy="41.30" r="2.45" fill="#555555"/>
<circle cx="592.12" cy="41.25" r="2.45" fill="#555555"/>
<circle cx="600.36" cy="41.20" r="2.45" fill="#555555"/>
<circle cx="608.60" cy="41.15" r="2.45" fill="#555555"/>
<circle cx="616.84" cy="41.10" r="2.45" fill="#555555"/>
<circle cx="625.08" cy="41.05" r="2.45" fill="#555555"/>
<circle cx="633.32" cy="41.00" r="2.45" fill="#555555"/>
<circle cx="641.56" cy="40.95" r="2.45" fill="#555555"/>
<circle cx="649.80" cy="40.90" r="2.45" fill="#555555"/>
<circle cx="410.84" cy="160.30" r="2.45" fill="#6d6dc4"/>
<circle cx="419.08" cy="35.60" r="2.45" fill="#6d6dc4"/>
<circle cx="427.32" cy="24.70" r="2.45" fill="#6d6dc4"/>
<circle cx="435.56" cy="48.30" r="2.45" fill="#6d6dc4"/>
<circle cx="443.80" cy="40.00" r="2.45" fill="#6d6dc4"/>
<circle cx="452.04" cy="38.70" r="2.45" fill="#6d6dc4"/>
<circle cx="460.28" cy="38.30" r="2.45" fill="#6d6dc4"/>
<circle cx="468.52" cy="38.00" r="2.45" fill="#6d6dc4"/>
<circle cx="476.76" cy="37.90" r="2.45" fill="#6d6dc4"/>
<circle cx="485.00" cy="37.80" r="2.45" fill="#6d6dc4"/>
<circle cx="493.24" cy="37.70" r="2.45" fill="#6d6dc4"/>
<circle cx="501.48" cy="37.60" r="2.45" fill="#6d6dc4"/>
<circle cx="509.72" cy="37.50" r="2.45" fill="#6d6dc4"/>
<circle cx="517.96" cy="37.40" r="2.45" fill="#6d6dc4"/>
<circle cx="526.20" cy="37.30" r="2.45" fill="#6d6dc4"/>
<circle cx="534.44" cy="37.14" r="2.45" fill="#6d6dc4"/>
<circle cx="542.68" cy="36.98" r="2.45" fill="#6d6dc4"/>
<circle cx="550.92" cy="36.82" r="2.45" fill="#6d6dc4"/>
<circle cx="559.16" cy="36.66" r="2.45" fill="#6d6dc4"/>
<circle cx="567.40" cy="36.50" r="2.45" fill="#6d6dc4"/>
<circle cx="575.64" cy="36.45" r="2.45" fill="#6d6dc4"/>
<circle cx="583.88" cy="36.40" r="2.45" fill="#6d6dc4"/>
<circle cx="592.12" cy="36.35" r="2.45" fill="#6d6dc4"/>
<circle cx="600.36" cy="36.30" r="2.45" fill="#6d6dc4"/>
<circle cx="608.60" cy="36.25" r="2.45" fill="#6d6dc4"/>
<circle cx="616.84" cy="36.20" r="2.45" fill="#6d6dc4"/>
<circle cx="625.08" cy="36.15" r="2.45" fill="#6d6dc4"/>
<circle cx="633.32" cy="36.10" r="2.45" fill="#6d6dc4"/>
<circle cx="641.56" cy="36.05" r="2.45" fill="#6d6dc4"/>
<circle cx="649.80" cy="36.00" r="2.45" fill="#6d6dc4"/>
</g>
<line x1="402.60" y1="7.90" x2="649.80" y2="7.90" stroke="#3a3a3a" stroke-width="1"/>
<line x1="402.60" y1="206.70" x2="649.80" y2="206.70" stroke="#3a3a3a" stroke-width="1"/>
<line x1="649.80" y1="7.90" x2="649.80" y2="206.70" stroke="#3a3a3a" stroke-width="1"/>
<line x1="402.60" y1="7.90" x2="402.60" y2="137.40" stroke="#3a3a3a" stroke-width="1"/>
<line x1="402.60" y1="142.00" x2="402.60" y2="206.70" stroke="#3a3a3a" stroke-width="1"/>
<line x1="398.80" y1="140.00" x2="406.60" y2="137.40" stroke="#3a3a3a" stroke-width="0.9"/>
<line x1="398.80" y1="142.80" x2="406.60" y2="140.20" stroke="#3a3a3a" stroke-width="0.9"/>
<line x1="402.60" y1="206.70" x2="402.60" y2="210.50" stroke="#3a3a3a" stroke-width="1"/>
<line x1="402.60" y1="7.90" x2="402.60" y2="11.90" stroke="#3a3a3a" stroke-width="1"/>
<text x="402.60" y="219.80" font-size="8.2" text-anchor="middle" fill="#222222" stroke="#222222" stroke-width="0.22" >0</text>
<line x1="423.20" y1="206.70" x2="423.20" y2="208.50" stroke="#3a3a3a" stroke-width="1"/>
<line x1="423.20" y1="7.90" x2="423.20" y2="9.70" stroke="#3a3a3a" stroke-width="1"/>
<line x1="443.80" y1="206.70" x2="443.80" y2="210.50" stroke="#3a3a3a" stroke-width="1"/>
<line x1="443.80" y1="7.90" x2="443.80" y2="11.90" stroke="#3a3a3a" stroke-width="1"/>
<text x="443.80" y="219.80" font-size="8.2" text-anchor="middle" fill="#222222" stroke="#222222" stroke-width="0.22" >5</text>
<line x1="464.40" y1="206.70" x2="464.40" y2="208.50" stroke="#3a3a3a" stroke-width="1"/>
<line x1="464.40" y1="7.90" x2="464.40" y2="9.70" stroke="#3a3a3a" stroke-width="1"/>
<line x1="485.00" y1="206.70" x2="485.00" y2="210.50" stroke="#3a3a3a" stroke-width="1"/>
<line x1="485.00" y1="7.90" x2="485.00" y2="11.90" stroke="#3a3a3a" stroke-width="1"/>
<text x="485.00" y="219.80" font-size="8.2" text-anchor="middle" fill="#222222" stroke="#222222" stroke-width="0.22" >10</text>
<line x1="505.60" y1="206.70" x2="505.60" y2="208.50" stroke="#3a3a3a" stroke-width="1"/>
<line x1="505.60" y1="7.90" x2="505.60" y2="9.70" stroke="#3a3a3a" stroke-width="1"/>
<line x1="526.20" y1="206.70" x2="526.20" y2="210.50" stroke="#3a3a3a" stroke-width="1"/>
<line x1="526.20" y1="7.90" x2="526.20" y2="11.90" stroke="#3a3a3a" stroke-width="1"/>
<text x="526.20" y="219.80" font-size="8.2" text-anchor="middle" fill="#222222" stroke="#222222" stroke-width="0.22" >15</text>
<line x1="546.80" y1="206.70" x2="546.80" y2="208.50" stroke="#3a3a3a" stroke-width="1"/>
<line x1="546.80" y1="7.90" x2="546.80" y2="9.70" stroke="#3a3a3a" stroke-width="1"/>
<line x1="567.40" y1="206.70" x2="567.40" y2="210.50" stroke="#3a3a3a" stroke-width="1"/>
<line x1="567.40" y1="7.90" x2="567.40" y2="11.90" stroke="#3a3a3a" stroke-width="1"/>
<text x="567.40" y="219.80" font-size="8.2" text-anchor="middle" fill="#222222" stroke="#222222" stroke-width="0.22" >20</text>
<line x1="588.00" y1="206.70" x2="588.00" y2="208.50" stroke="#3a3a3a" stroke-width="1"/>
<line x1="588.00" y1="7.90" x2="588.00" y2="9.70" stroke="#3a3a3a" stroke-width="1"/>
<line x1="608.60" y1="206.70" x2="608.60" y2="210.50" stroke="#3a3a3a" stroke-width="1"/>
<line x1="608.60" y1="7.90" x2="608.60" y2="11.90" stroke="#3a3a3a" stroke-width="1"/>
<text x="608.60" y="219.80" font-size="8.2" text-anchor="middle" fill="#222222" stroke="#222222" stroke-width="0.22" >25</text>
<line x1="629.20" y1="206.70" x2="629.20" y2="208.50" stroke="#3a3a3a" stroke-width="1"/>
<line x1="629.20" y1="7.90" x2="629.20" y2="9.70" stroke="#3a3a3a" stroke-width="1"/>
<line x1="649.80" y1="206.70" x2="649.80" y2="210.50" stroke="#3a3a3a" stroke-width="1"/>
<line x1="649.80" y1="7.90" x2="649.80" y2="11.90" stroke="#3a3a3a" stroke-width="1"/>
<text x="649.80" y="219.80" font-size="8.2" text-anchor="middle" fill="#222222" stroke="#222222" stroke-width="0.22" >30</text>
<line x1="399.00" y1="7.90" x2="402.60" y2="7.90" stroke="#3a3a3a" stroke-width="1"/>
<text x="396.30" y="10.80" font-size="8.2" text-anchor="end" fill="#222222" stroke="#222222" stroke-width="0.22" >1600</text>
<line x1="399.00" y1="40.42" x2="402.60" y2="40.42" stroke="#3a3a3a" stroke-width="1"/>
<text x="396.30" y="43.32" font-size="8.2" text-anchor="end" fill="#222222" stroke="#222222" stroke-width="0.22" >1400</text>
<line x1="399.00" y1="72.94" x2="402.60" y2="72.94" stroke="#3a3a3a" stroke-width="1"/>
<text x="396.30" y="75.84" font-size="8.2" text-anchor="end" fill="#222222" stroke="#222222" stroke-width="0.22" >1200</text>
<line x1="399.00" y1="105.46" x2="402.60" y2="105.46" stroke="#3a3a3a" stroke-width="1"/>
<text x="396.30" y="108.36" font-size="8.2" text-anchor="end" fill="#222222" stroke="#222222" stroke-width="0.22" >1000</text>
<line x1="400.80" y1="24.16" x2="402.60" y2="24.16" stroke="#3a3a3a" stroke-width="1"/>
<line x1="400.80" y1="56.68" x2="402.60" y2="56.68" stroke="#3a3a3a" stroke-width="1"/>
<line x1="400.80" y1="89.20" x2="402.60" y2="89.20" stroke="#3a3a3a" stroke-width="1"/>
<line x1="400.80" y1="121.72" x2="402.60" y2="121.72" stroke="#3a3a3a" stroke-width="1"/>
<text x="396.30" y="140.90" font-size="8.2" text-anchor="end" fill="#222222" stroke="#222222" stroke-width="0.22" >800</text>
<line x1="399.00" y1="157.65" x2="402.60" y2="157.65" stroke="#3a3a3a" stroke-width="1"/>
<text x="396.30" y="160.55" font-size="8.2" text-anchor="end" fill="#222222" stroke="#222222" stroke-width="0.22" >300</text>
<line x1="399.00" y1="174.00" x2="402.60" y2="174.00" stroke="#3a3a3a" stroke-width="1"/>
<text x="396.30" y="176.90" font-size="8.2" text-anchor="end" fill="#222222" stroke="#222222" stroke-width="0.22" >200</text>
<line x1="399.00" y1="190.35" x2="402.60" y2="190.35" stroke="#3a3a3a" stroke-width="1"/>
<text x="396.30" y="193.25" font-size="8.2" text-anchor="end" fill="#222222" stroke="#222222" stroke-width="0.22" >100</text>
<line x1="399.00" y1="206.70" x2="402.60" y2="206.70" stroke="#3a3a3a" stroke-width="1"/>
<text x="396.30" y="209.60" font-size="8.2" text-anchor="end" fill="#222222" stroke="#222222" stroke-width="0.22" >0</text>
<line x1="400.80" y1="149.47" x2="402.60" y2="149.47" stroke="#3a3a3a" stroke-width="1"/>
<line x1="400.80" y1="165.82" x2="402.60" y2="165.82" stroke="#3a3a3a" stroke-width="1"/>
<line x1="400.80" y1="182.17" x2="402.60" y2="182.17" stroke="#3a3a3a" stroke-width="1"/>
<line x1="400.80" y1="198.52" x2="402.60" y2="198.52" stroke="#3a3a3a" stroke-width="1"/>
<line x1="649.80" y1="7.90" x2="653.60" y2="7.90" stroke="#3a3a3a" stroke-width="1"/>
<text x="656.60" y="10.80" font-size="8.2" text-anchor="start" fill="#222222" stroke="#222222" stroke-width="0.22" >120</text>
<line x1="649.80" y1="41.03" x2="653.60" y2="41.03" stroke="#3a3a3a" stroke-width="1"/>
<text x="656.60" y="43.93" font-size="8.2" text-anchor="start" fill="#222222" stroke="#222222" stroke-width="0.22" >100</text>
<line x1="649.80" y1="74.16" x2="653.60" y2="74.16" stroke="#3a3a3a" stroke-width="1"/>
<text x="656.60" y="77.06" font-size="8.2" text-anchor="start" fill="#222222" stroke="#222222" stroke-width="0.22" >80</text>
<line x1="649.80" y1="107.30" x2="653.60" y2="107.30" stroke="#3a3a3a" stroke-width="1"/>
<text x="656.60" y="110.20" font-size="8.2" text-anchor="start" fill="#222222" stroke="#222222" stroke-width="0.22" >60</text>
<line x1="649.80" y1="140.43" x2="653.60" y2="140.43" stroke="#3a3a3a" stroke-width="1"/>
<text x="656.60" y="143.33" font-size="8.2" text-anchor="start" fill="#222222" stroke="#222222" stroke-width="0.22" >40</text>
<line x1="649.80" y1="173.57" x2="653.60" y2="173.57" stroke="#3a3a3a" stroke-width="1"/>
<text x="656.60" y="176.47" font-size="8.2" text-anchor="start" fill="#222222" stroke="#222222" stroke-width="0.22" >20</text>
<line x1="649.80" y1="206.70" x2="653.60" y2="206.70" stroke="#3a3a3a" stroke-width="1"/>
<text x="656.60" y="209.60" font-size="8.2" text-anchor="start" fill="#222222" stroke="#222222" stroke-width="0.22" >0</text>
<line x1="649.80" y1="24.46" x2="651.80" y2="24.46" stroke="#3a3a3a" stroke-width="1"/>
<line x1="649.80" y1="57.60" x2="651.80" y2="57.60" stroke="#3a3a3a" stroke-width="1"/>
<line x1="649.80" y1="90.73" x2="651.80" y2="90.73" stroke="#3a3a3a" stroke-width="1"/>
<line x1="649.80" y1="123.86" x2="651.80" y2="123.86" stroke="#3a3a3a" stroke-width="1"/>
<line x1="649.80" y1="157.00" x2="651.80" y2="157.00" stroke="#3a3a3a" stroke-width="1"/>
<line x1="649.80" y1="190.13" x2="651.80" y2="190.13" stroke="#3a3a3a" stroke-width="1"/>
<text x="0.00" y="0.00" font-size="10.5" text-anchor="middle" fill="#222222" stroke="#222222" stroke-width="0.22" transform="translate(370.9,106.8) rotate(-90)">Capacity (mAh/g)</text>
<text x="0.00" y="0.00" font-size="10.5" text-anchor="middle" fill="#222222" stroke="#222222" stroke-width="0.22" transform="translate(682.3,105.5) rotate(-90)">Coulombic efficency (%)</text>
<text x="526.2" y="238.1" font-size="10.5" text-anchor="middle" fill="#222222" stroke="#222222" stroke-width="0.22">Cycle (n<tspan font-size="7" dy="-4" stroke-width="0.05">th</tspan><tspan dy="4" stroke-width="0.22">)</tspan></text>
<g font-weight="bold" fill="#111" stroke="#111" stroke-width="0.45"><text x="337.8" y="26.9" font-size="22.5">(</text><text x="345.4" y="26.3" font-size="20.3">b</text><text x="358.6" y="26.9" font-size="22.5">)</text></g>
<rect x="597.3" y="70.4" width="46.9" height="45.2" fill="#fff" stroke="#b0b0b0" stroke-width="0.8"/>
<text x="598.8" y="79.30" font-size="9" fill="#777777" stroke="#777777" stroke-width="0.22">GO-<tspan font-style="italic">np</tspan>Li30</text>
<text x="598.8" y="90.10" font-size="9" fill="#f0b830" stroke="#f0b830" stroke-width="0.22">GO-<tspan font-style="italic">np</tspan>Li20</text>
<text x="598.8" y="100.90" font-size="9" fill="#8484cc" stroke="#8484cc" stroke-width="0.22">GO-<tspan font-style="italic">np</tspan>Li10</text>
<text x="598.8" y="111.70" font-size="9" fill="#2fa070" stroke="#2fa070" stroke-width="0.22">GO-<tspan font-style="italic">np</tspan>Li0</text>
<rect x="585.0" y="128.1" width="6.2" height="6.2" fill="#111"/>
<rect x="585.5" y="138.6" width="5.5" height="5.5" fill="#fff" stroke="#555" stroke-width="0.8"/>
<circle cx="588.2" cy="149.8" r="3.1" fill="#111"/>
<text x="593.90" y="134.30" font-size="8.1" text-anchor="start" fill="#222222" stroke="#222222" stroke-width="0.22" >Charge</text>
<text x="593.90" y="144.30" font-size="8.1" text-anchor="start" fill="#222222" stroke="#222222" stroke-width="0.22" >Discharge</text>
<text x="593.90" y="153.00" font-size="8.1" text-anchor="start" fill="#222222" stroke="#222222" stroke-width="0.22" >Coulombic eff.</text>
</svg></body></html>
